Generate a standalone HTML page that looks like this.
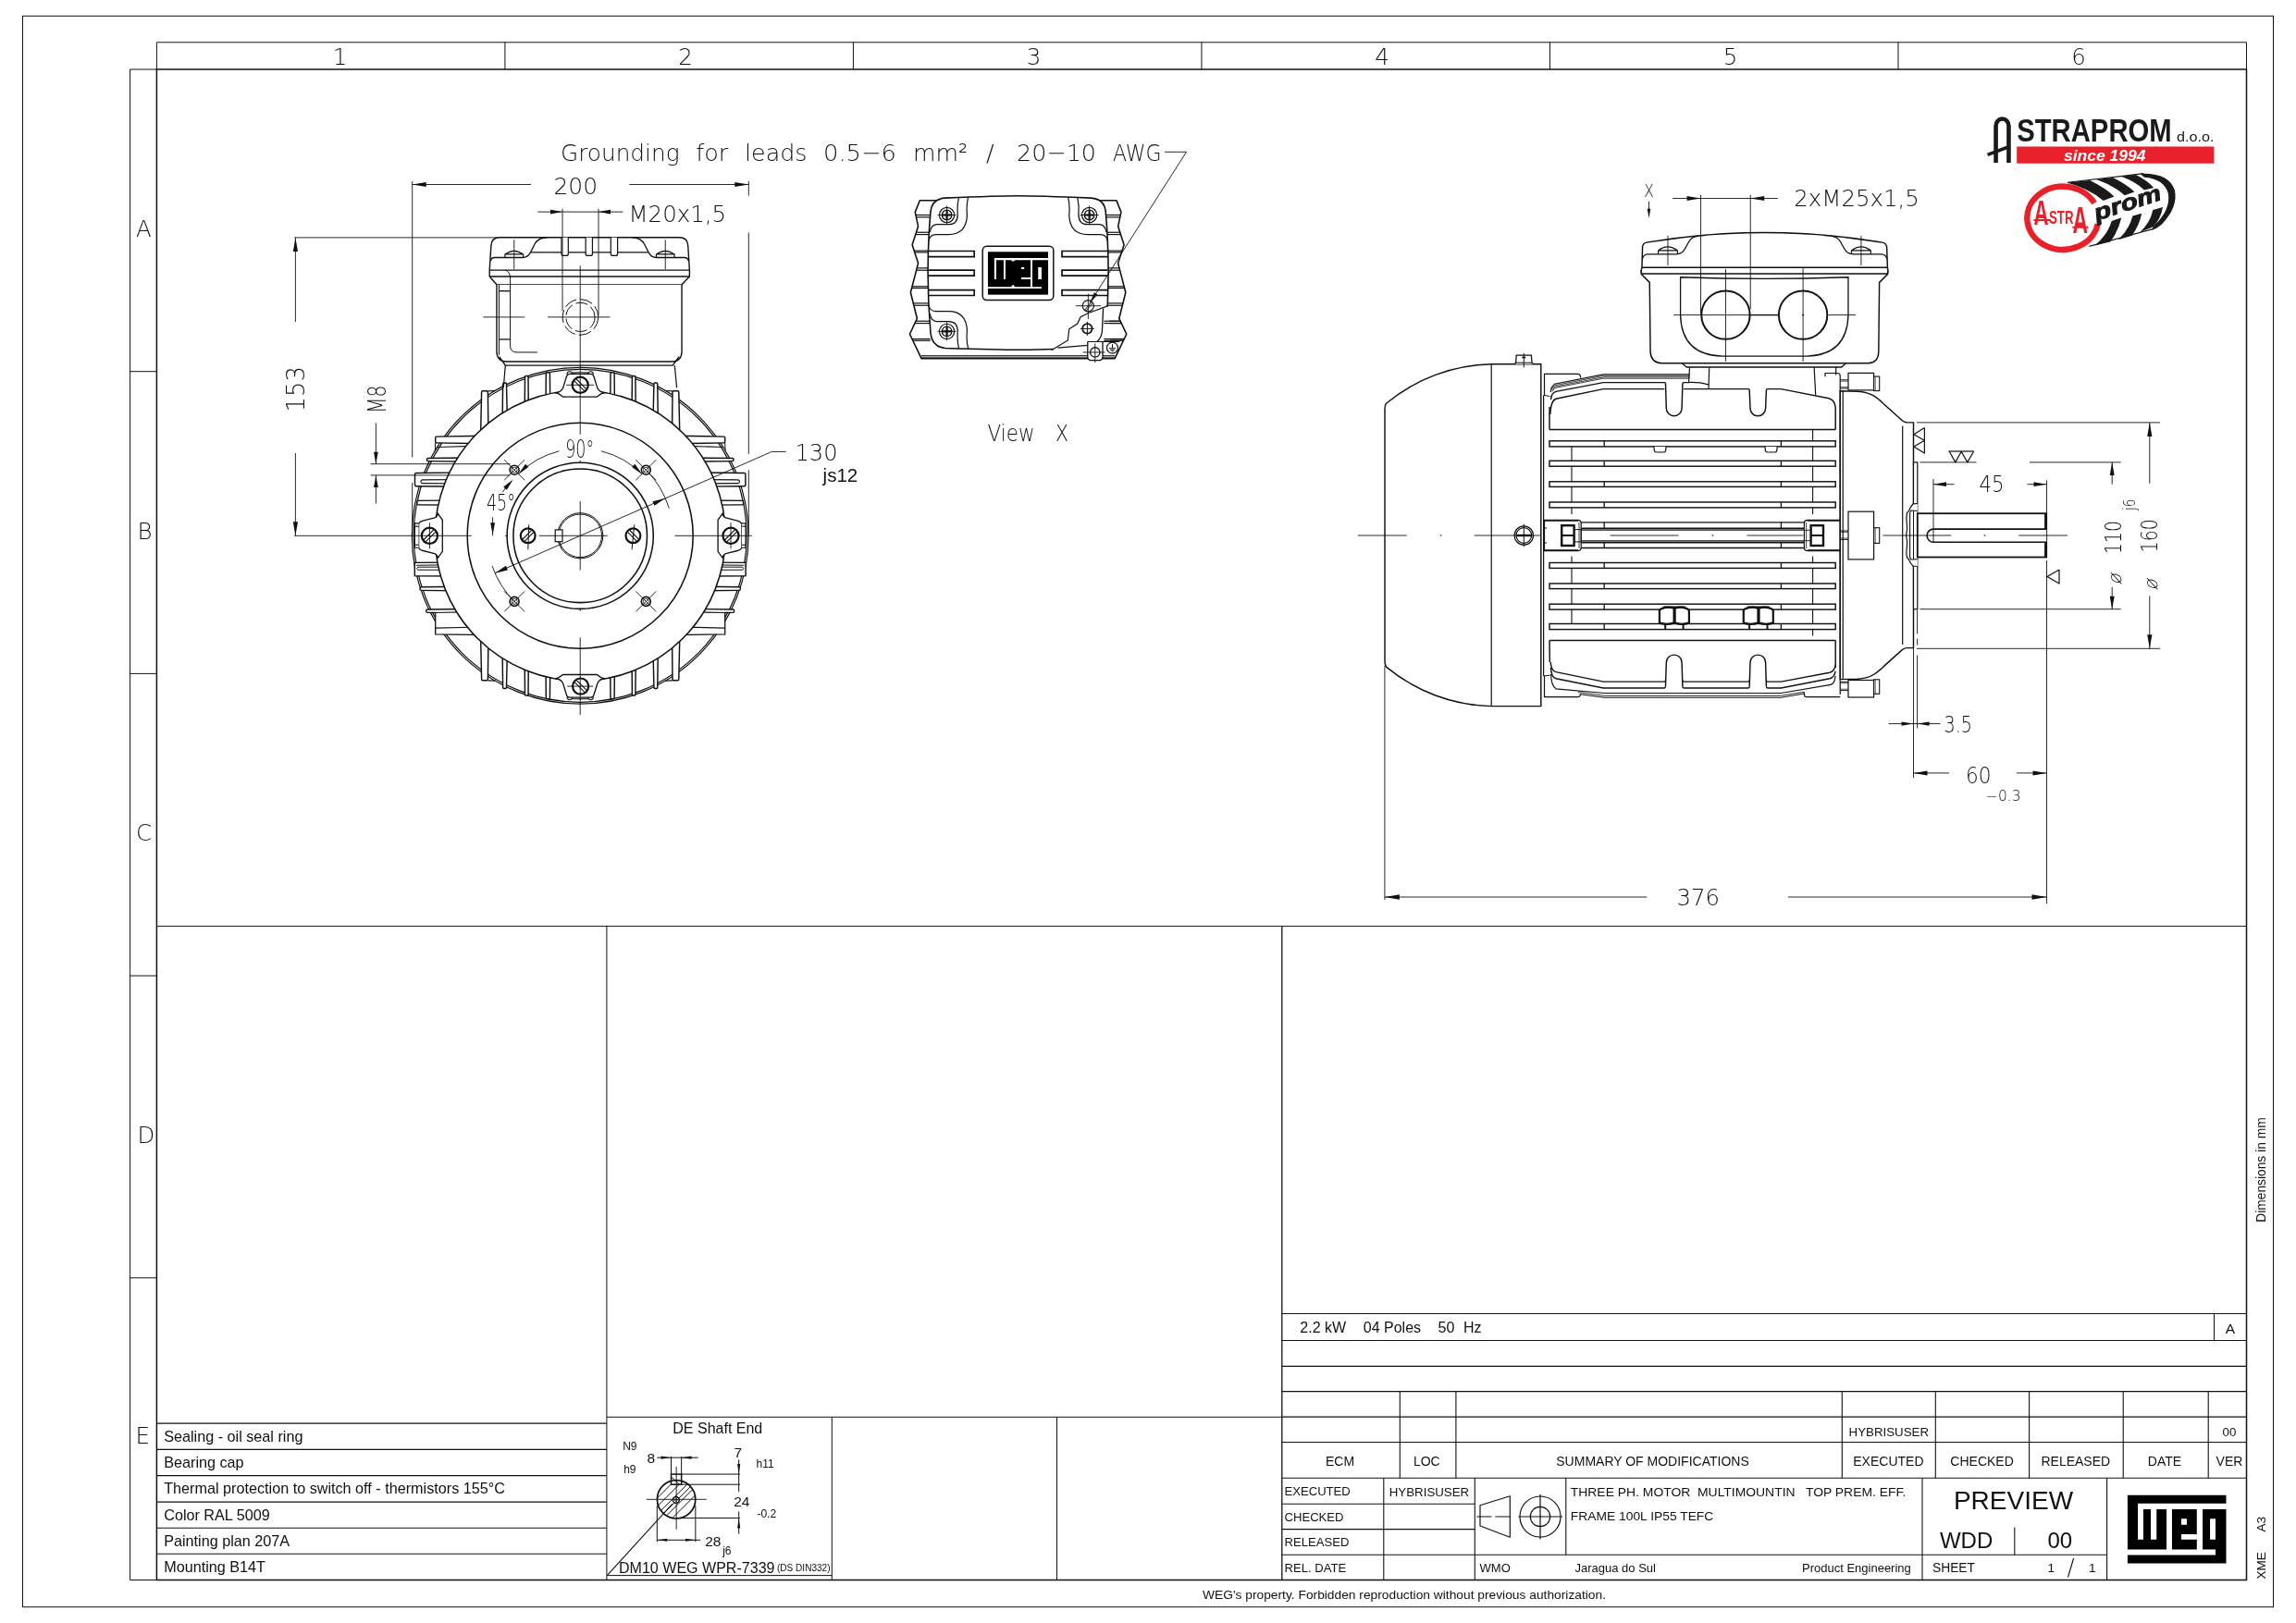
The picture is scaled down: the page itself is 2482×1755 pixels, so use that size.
<!DOCTYPE html>
<html><head><meta charset="utf-8"><title>Drawing</title>
<style>html,body{margin:0;padding:0;background:#fff}svg{display:block;will-change:transform;transform:translateZ(0)}text{white-space:pre}</style></head>
<body><svg width="2482" height="1755" viewBox="0 0 2482 1755">
<rect width="2482" height="1755" fill="#fff"/>
<rect x="24.5" y="17.3" width="2433" height="1720.4" rx="0" fill="none" stroke="#111" stroke-width="1.0"/>
<rect x="169.4" y="75" width="2259.1" height="1633.5" rx="0" fill="none" stroke="#111" stroke-width="1.5"/>
<path d="M169.4 75 L169.4 45.8 L2428.5 45.8 L2428.5 75" fill="none" stroke="#111" stroke-width="1.0" stroke-linejoin="round"/>
<line x1="545.92" y1="45.8" x2="545.92" y2="75" stroke="#111" stroke-width="1.0"/>
<line x1="922.43" y1="45.8" x2="922.43" y2="75" stroke="#111" stroke-width="1.0"/>
<line x1="1298.95" y1="45.8" x2="1298.95" y2="75" stroke="#111" stroke-width="1.0"/>
<line x1="1675.47" y1="45.8" x2="1675.47" y2="75" stroke="#111" stroke-width="1.0"/>
<line x1="2051.98" y1="45.8" x2="2051.98" y2="75" stroke="#111" stroke-width="1.0"/>
<text x="359.66" y="70.3" font-family="'DejaVu Sans Light','DejaVu Sans','Liberation Sans',sans-serif" font-size="24.5" font-weight="200" fill="#111" xml:space="preserve">1</text>
<text x="733.17" y="70.3" font-family="'DejaVu Sans Light','DejaVu Sans','Liberation Sans',sans-serif" font-size="24.5" font-weight="200" fill="#111" xml:space="preserve">2</text>
<text x="1109.69" y="70.3" font-family="'DejaVu Sans Light','DejaVu Sans','Liberation Sans',sans-serif" font-size="24.5" font-weight="200" fill="#111" xml:space="preserve">3</text>
<text x="1486.21" y="70.3" font-family="'DejaVu Sans Light','DejaVu Sans','Liberation Sans',sans-serif" font-size="24.5" font-weight="200" fill="#111" xml:space="preserve">4</text>
<text x="1862.72" y="70.3" font-family="'DejaVu Sans Light','DejaVu Sans','Liberation Sans',sans-serif" font-size="24.5" font-weight="200" fill="#111" xml:space="preserve">5</text>
<text x="2239.24" y="70.3" font-family="'DejaVu Sans Light','DejaVu Sans','Liberation Sans',sans-serif" font-size="24.5" font-weight="200" fill="#111" xml:space="preserve">6</text>
<path d="M169.4 75 L140.6 75 L140.6 1708.5 L169.4 1708.5" fill="none" stroke="#111" stroke-width="1.0" stroke-linejoin="round"/>
<line x1="140.6" y1="401.7" x2="169.4" y2="401.7" stroke="#111" stroke-width="1.0"/>
<line x1="140.6" y1="728.4" x2="169.4" y2="728.4" stroke="#111" stroke-width="1.0"/>
<line x1="140.6" y1="1055.1" x2="169.4" y2="1055.1" stroke="#111" stroke-width="1.0"/>
<line x1="140.6" y1="1381.8" x2="169.4" y2="1381.8" stroke="#111" stroke-width="1.0"/>
<text x="147" y="255.85" font-family="'DejaVu Sans Light','DejaVu Sans','Liberation Sans',sans-serif" font-size="24.5" font-weight="200" fill="#111" xml:space="preserve">A</text>
<text x="148.5" y="582.55" font-family="'DejaVu Sans Light','DejaVu Sans','Liberation Sans',sans-serif" font-size="24.5" font-weight="200" fill="#111" xml:space="preserve">B</text>
<text x="147" y="909.25" font-family="'DejaVu Sans Light','DejaVu Sans','Liberation Sans',sans-serif" font-size="24.5" font-weight="200" fill="#111" xml:space="preserve">C</text>
<text x="148.5" y="1235.95" font-family="'DejaVu Sans Light','DejaVu Sans','Liberation Sans',sans-serif" font-size="24.5" font-weight="200" fill="#111" xml:space="preserve">D</text>
<text x="146.5" y="1560.65" font-family="'DejaVu Sans Light','DejaVu Sans','Liberation Sans',sans-serif" font-size="24.5" font-weight="200" fill="#111" xml:space="preserve">E</text>
<line x1="169.4" y1="1001.6" x2="2428.5" y2="1001.6" stroke="#111" stroke-width="1.0"/>
<line x1="655.9" y1="1001.6" x2="655.9" y2="1708.5" stroke="#111" stroke-width="1.0"/>
<line x1="1385.8" y1="1001.6" x2="1385.8" y2="1708.5" stroke="#111" stroke-width="1.3"/>
<line x1="169.4" y1="1539.1" x2="655.9" y2="1539.1" stroke="#111" stroke-width="1.1"/>
<line x1="169.4" y1="1567.4" x2="655.9" y2="1567.4" stroke="#111" stroke-width="1.1"/>
<line x1="169.4" y1="1595.6" x2="655.9" y2="1595.6" stroke="#111" stroke-width="1.1"/>
<line x1="169.4" y1="1624.1" x2="655.9" y2="1624.1" stroke="#111" stroke-width="1.1"/>
<line x1="169.4" y1="1652.3" x2="655.9" y2="1652.3" stroke="#111" stroke-width="1.1"/>
<line x1="169.4" y1="1680.3" x2="655.9" y2="1680.3" stroke="#111" stroke-width="1.1"/>
<text x="177.2" y="1558.9" font-family="'Liberation Sans',Arial,sans-serif" font-size="16.2" fill="#111" xml:space="preserve">Sealing - oil seal ring</text>
<text x="177.2" y="1587.2" font-family="'Liberation Sans',Arial,sans-serif" font-size="16.2" fill="#111" xml:space="preserve">Bearing cap</text>
<text x="177.2" y="1615.4" font-family="'Liberation Sans',Arial,sans-serif" font-size="16.2" fill="#111" xml:space="preserve">Thermal protection to switch off - thermistors 155°C</text>
<text x="177.2" y="1643.9" font-family="'Liberation Sans',Arial,sans-serif" font-size="16.2" fill="#111" xml:space="preserve">Color RAL 5009</text>
<text x="177.2" y="1672.1" font-family="'Liberation Sans',Arial,sans-serif" font-size="16.2" fill="#111" xml:space="preserve">Painting plan 207A</text>
<text x="177.2" y="1700.1" font-family="'Liberation Sans',Arial,sans-serif" font-size="16.2" fill="#111" xml:space="preserve">Mounting B14T</text>
<line x1="655.9" y1="1532.3" x2="1385.8" y2="1532.3" stroke="#111" stroke-width="1.0"/>
<line x1="899.3" y1="1532.3" x2="899.3" y2="1708.5" stroke="#111" stroke-width="1.0"/>
<line x1="1142.5" y1="1532.3" x2="1142.5" y2="1708.5" stroke="#111" stroke-width="1.0"/>
<line x1="655.9" y1="1703.6" x2="899.3" y2="1703.6" stroke="#111" stroke-width="1.0"/>
<line x1="1385.8" y1="1420.5" x2="2428.5" y2="1420.5" stroke="#111" stroke-width="1.1"/>
<line x1="1385.8" y1="1449.5" x2="2428.5" y2="1449.5" stroke="#111" stroke-width="1.1"/>
<line x1="1385.8" y1="1477.4" x2="2428.5" y2="1477.4" stroke="#111" stroke-width="1.1"/>
<line x1="1385.8" y1="1504.6" x2="2428.5" y2="1504.6" stroke="#111" stroke-width="1.1"/>
<line x1="1385.8" y1="1532.1" x2="2428.5" y2="1532.1" stroke="#111" stroke-width="1.1"/>
<line x1="1385.8" y1="1559.5" x2="2428.5" y2="1559.5" stroke="#111" stroke-width="1.1"/>
<line x1="1385.8" y1="1598.2" x2="2428.5" y2="1598.2" stroke="#111" stroke-width="1.1"/>
<line x1="2393.5" y1="1420.5" x2="2393.5" y2="1449.5" stroke="#111" stroke-width="1.0"/>
<line x1="1513.3" y1="1504.6" x2="1513.3" y2="1598.2" stroke="#111" stroke-width="1.1"/>
<line x1="1573.9" y1="1504.6" x2="1573.9" y2="1598.2" stroke="#111" stroke-width="1.1"/>
<line x1="1991.3" y1="1504.6" x2="1991.3" y2="1598.2" stroke="#111" stroke-width="1.1"/>
<line x1="2092.3" y1="1504.6" x2="2092.3" y2="1598.2" stroke="#111" stroke-width="1.1"/>
<line x1="2193.6" y1="1504.6" x2="2193.6" y2="1598.2" stroke="#111" stroke-width="1.1"/>
<line x1="2295.2" y1="1504.6" x2="2295.2" y2="1598.2" stroke="#111" stroke-width="1.1"/>
<line x1="2387.2" y1="1504.6" x2="2387.2" y2="1598.2" stroke="#111" stroke-width="1.1"/>
<line x1="1385.8" y1="1626.2" x2="1594.3" y2="1626.2" stroke="#111" stroke-width="1.1"/>
<line x1="1385.8" y1="1653.6" x2="1594.3" y2="1653.6" stroke="#111" stroke-width="1.1"/>
<line x1="1385.8" y1="1681.3" x2="2277.6" y2="1681.3" stroke="#111" stroke-width="1.1"/>
<line x1="1495.8" y1="1598.2" x2="1495.8" y2="1708.5" stroke="#111" stroke-width="1.1"/>
<line x1="1594.3" y1="1598.2" x2="1594.3" y2="1708.5" stroke="#111" stroke-width="1.1"/>
<line x1="2078" y1="1598.2" x2="2078" y2="1708.5" stroke="#111" stroke-width="1.1"/>
<line x1="2277.6" y1="1598.2" x2="2277.6" y2="1708.5" stroke="#111" stroke-width="1.1"/>
<line x1="1692.8" y1="1598.2" x2="1692.8" y2="1681.3" stroke="#111" stroke-width="1.1"/>
<line x1="2177.8" y1="1651.6" x2="2177.8" y2="1681.3" stroke="#111" stroke-width="1.1"/>
<text x="1405.3" y="1441.2" font-family="'Liberation Sans',Arial,sans-serif" font-size="16" fill="#111" xml:space="preserve">2.2 kW</text>
<text x="1473.8" y="1441.2" font-family="'Liberation Sans',Arial,sans-serif" font-size="16" fill="#111" xml:space="preserve">04 Poles</text>
<text x="1554.5" y="1441.2" font-family="'Liberation Sans',Arial,sans-serif" font-size="16" fill="#111" xml:space="preserve">50</text>
<text x="1582" y="1441.2" font-family="'Liberation Sans',Arial,sans-serif" font-size="16" fill="#111" xml:space="preserve">Hz</text>
<text x="2411" y="1441.5" font-family="'Liberation Sans',Arial,sans-serif" font-size="15.5" text-anchor="middle" fill="#111" xml:space="preserve">A</text>
<text x="1448.6" y="1584.8" font-family="'Liberation Sans',Arial,sans-serif" font-size="14" text-anchor="middle" fill="#111" xml:space="preserve">ECM</text>
<text x="1542.3" y="1584.8" font-family="'Liberation Sans',Arial,sans-serif" font-size="14" text-anchor="middle" fill="#111" xml:space="preserve">LOC</text>
<text x="1786.5" y="1584.8" font-family="'Liberation Sans',Arial,sans-serif" font-size="14" text-anchor="middle" fill="#111" xml:space="preserve">SUMMARY OF MODIFICATIONS</text>
<text x="2041.4" y="1584.8" font-family="'Liberation Sans',Arial,sans-serif" font-size="14" text-anchor="middle" fill="#111" xml:space="preserve">EXECUTED</text>
<text x="2142.6" y="1584.8" font-family="'Liberation Sans',Arial,sans-serif" font-size="14" text-anchor="middle" fill="#111" xml:space="preserve">CHECKED</text>
<text x="2243.8" y="1584.8" font-family="'Liberation Sans',Arial,sans-serif" font-size="14" text-anchor="middle" fill="#111" xml:space="preserve">RELEASED</text>
<text x="2340" y="1584.8" font-family="'Liberation Sans',Arial,sans-serif" font-size="14" text-anchor="middle" fill="#111" xml:space="preserve">DATE</text>
<text x="2410" y="1584.8" font-family="'Liberation Sans',Arial,sans-serif" font-size="14" text-anchor="middle" fill="#111" xml:space="preserve">VER</text>
<text x="2041.8" y="1552.6" font-family="'Liberation Sans',Arial,sans-serif" font-size="13.3" text-anchor="middle" fill="#111" xml:space="preserve">HYBRISUSER</text>
<text x="2410" y="1552.6" font-family="'Liberation Sans',Arial,sans-serif" font-size="13.3" text-anchor="middle" fill="#111" xml:space="preserve">00</text>
<text x="1388.5" y="1617.1" font-family="'Liberation Sans',Arial,sans-serif" font-size="13.1" fill="#111" xml:space="preserve">EXECUTED</text>
<text x="1388.5" y="1644.7" font-family="'Liberation Sans',Arial,sans-serif" font-size="13.1" fill="#111" xml:space="preserve">CHECKED</text>
<text x="1388.5" y="1672" font-family="'Liberation Sans',Arial,sans-serif" font-size="13.1" fill="#111" xml:space="preserve">RELEASED</text>
<text x="1388.5" y="1699.7" font-family="'Liberation Sans',Arial,sans-serif" font-size="13.1" fill="#111" xml:space="preserve">REL. DATE</text>
<text x="1545" y="1617.7" font-family="'Liberation Sans',Arial,sans-serif" font-size="13.3" text-anchor="middle" fill="#111" xml:space="preserve">HYBRISUSER</text>
<text x="1599.6" y="1700.3" font-family="'Liberation Sans',Arial,sans-serif" font-size="13" fill="#111" xml:space="preserve">WMO</text>
<text x="1702.5" y="1700.3" font-family="'Liberation Sans',Arial,sans-serif" font-size="13" fill="#111" xml:space="preserve">Jaragua do Sul</text>
<text x="2065.8" y="1700.3" font-family="'Liberation Sans',Arial,sans-serif" font-size="13" text-anchor="end" fill="#111" xml:space="preserve">Product Engineering</text>
<text x="1697.8" y="1617.8" font-family="'Liberation Sans',Arial,sans-serif" font-size="13.3" textLength="362.5" lengthAdjust="spacingAndGlyphs" fill="#111" xml:space="preserve">THREE PH. MOTOR  MULTIMOUNTIN   TOP PREM. EFF.</text>
<text x="1697.8" y="1644" font-family="'Liberation Sans',Arial,sans-serif" font-size="13.3" textLength="154.5" lengthAdjust="spacingAndGlyphs" fill="#111" xml:space="preserve">FRAME 100L IP55 TEFC</text>
<text x="2176.5" y="1631.5" font-family="'Liberation Sans',Arial,sans-serif" font-size="28" text-anchor="middle" fill="#111" xml:space="preserve">PREVIEW</text>
<text x="2125.6" y="1674.3" font-family="'Liberation Sans',Arial,sans-serif" font-size="24" text-anchor="middle" fill="#111" xml:space="preserve">WDD</text>
<text x="2226.8" y="1674.3" font-family="'Liberation Sans',Arial,sans-serif" font-size="24" text-anchor="middle" fill="#111" xml:space="preserve">00</text>
<text x="2089" y="1699.6" font-family="'Liberation Sans',Arial,sans-serif" font-size="13.8" fill="#111" xml:space="preserve">SHEET</text>
<text x="2213.5" y="1700.2" font-family="'Liberation Sans',Arial,sans-serif" font-size="13.5" fill="#111" xml:space="preserve">1</text>
<text x="2234.5" y="1703" font-family="'DejaVu Sans Light','DejaVu Sans','Liberation Sans',sans-serif" font-size="24" font-weight="200" fill="#111" xml:space="preserve">/</text>
<text x="2258" y="1700.2" font-family="'Liberation Sans',Arial,sans-serif" font-size="13.5" fill="#111" xml:space="preserve">1</text>
<text x="2448.5" y="1707.5" font-family="'Liberation Sans',Arial,sans-serif" font-size="13.5" transform="rotate(-90 2448.5 1707.5)" fill="#111" xml:space="preserve">XME</text>
<text x="2448.5" y="1656.5" font-family="'Liberation Sans',Arial,sans-serif" font-size="13.5" transform="rotate(-90 2448.5 1656.5)" fill="#111" xml:space="preserve">A3</text>
<text x="2448.8" y="1321.8" font-family="'Liberation Sans',Arial,sans-serif" font-size="13.8" transform="rotate(-90 2448.8 1321.8)" fill="#111" xml:space="preserve">Dimensions in mm</text>
<text x="1300" y="1728.6" font-family="'Liberation Sans',Arial,sans-serif" font-size="13.7" textLength="436" lengthAdjust="spacingAndGlyphs" fill="#111" xml:space="preserve">WEG's property. Forbidden reproduction without previous authorization.</text>
<path d="M1600 1627.8 L1632.3 1617.7 L1632.3 1662.2 L1600 1650 Z" fill="none" stroke="#111" stroke-width="1.2" stroke-linejoin="round"/>
<line x1="1596.5" y1="1640" x2="1636.5" y2="1640" stroke="#111" stroke-width="1.2" stroke-dasharray="16 4"/>
<circle cx="1665" cy="1640" r="22" fill="none" stroke="#111" stroke-width="1.2"/>
<circle cx="1665" cy="1640" r="10.7" fill="none" stroke="#111" stroke-width="1.2"/>
<line x1="1641.5" y1="1640" x2="1689" y2="1640" stroke="#111" stroke-width="1.2"/>
<line x1="1665" y1="1616" x2="1665" y2="1664.5" stroke="#111" stroke-width="1.2"/>
<path d="M2299.9 1616.7H2406.5V1625.76H2299.9ZM2299.9 1616.7H2311.05V1675.61H2299.9ZM2299.9 1664.8H2342.05V1675.61H2299.9ZM2316.97 1632.04H2324.98V1675.61H2316.97ZM2331.25 1632.04H2342.05V1675.61H2331.25ZM2347.97 1632.04H2374.8V1675.61H2347.97ZM2381.07 1632.04H2406.5V1675.61H2381.07ZM2395 1632.04H2406.5V1690.6H2395ZM2299.9 1681.54H2406.5V1690.6H2299.9Z" fill="#000"/>
<path d="M2357.94 1642.15H2364V1648.77H2357.94ZM2357.94 1658.88H2374.94V1664.8H2357.94ZM2389.08 1642.15H2395V1664.8H2389.08Z" fill="#fff"/>
<text x="775.8" y="1550" font-family="'Liberation Sans',Arial,sans-serif" font-size="16" text-anchor="middle" fill="#111" xml:space="preserve">DE Shaft End</text>
<text x="673.2" y="1568.2" font-family="'Liberation Sans',Arial,sans-serif" font-size="12" fill="#111" xml:space="preserve">N9</text>
<text x="674.2" y="1593" font-family="'Liberation Sans',Arial,sans-serif" font-size="12" fill="#111" xml:space="preserve">h9</text>
<text x="699.6" y="1582.2" font-family="'Liberation Sans',Arial,sans-serif" font-size="15.5" fill="#111" xml:space="preserve">8</text>
<text x="793.6" y="1575.8" font-family="'Liberation Sans',Arial,sans-serif" font-size="15.5" fill="#111" xml:space="preserve">7</text>
<text x="817.6" y="1586.6" font-family="'Liberation Sans',Arial,sans-serif" font-size="12" fill="#111" xml:space="preserve">h11</text>
<text x="793.2" y="1629.3" font-family="'Liberation Sans',Arial,sans-serif" font-size="15.5" fill="#111" xml:space="preserve">24</text>
<text x="818.4" y="1641" font-family="'Liberation Sans',Arial,sans-serif" font-size="12" fill="#111" xml:space="preserve">-0.2</text>
<text x="762.2" y="1671.5" font-family="'Liberation Sans',Arial,sans-serif" font-size="15.5" fill="#111" xml:space="preserve">28</text>
<text x="781.2" y="1681.4" font-family="'Liberation Sans',Arial,sans-serif" font-size="12" fill="#111" xml:space="preserve">j6</text>
<text x="669" y="1701.4" font-family="'Liberation Sans',Arial,sans-serif" font-size="16" textLength="168.5" lengthAdjust="spacingAndGlyphs" fill="#111" xml:space="preserve">DM10 WEG WPR-7339</text>
<text x="840" y="1699.4" font-family="'Liberation Sans',Arial,sans-serif" font-size="10" textLength="57.5" lengthAdjust="spacingAndGlyphs" fill="#111" xml:space="preserve">(DS DIN332)</text>
<clipPath id="shc"><circle cx="731.1" cy="1621.3" r="20.7"/></clipPath><g clip-path="url(#shc)">
<line x1="679.1" y1="1651.3" x2="739.1" y2="1591.3" stroke="#111" stroke-width="1.0"/>
<line x1="688.1" y1="1651.3" x2="748.1" y2="1591.3" stroke="#111" stroke-width="1.0"/>
<line x1="696.6" y1="1651.3" x2="756.6" y2="1591.3" stroke="#111" stroke-width="1.0"/>
<line x1="702.6" y1="1651.3" x2="762.6" y2="1591.3" stroke="#111" stroke-width="1.0"/>
<line x1="708.1" y1="1651.3" x2="768.1" y2="1591.3" stroke="#111" stroke-width="1.0"/>
<line x1="717.1" y1="1651.3" x2="777.1" y2="1591.3" stroke="#111" stroke-width="1.0"/>
</g>
<rect x="725.51" y="1594.07" width="11.12" height="11.12" rx="0" fill="#fff" stroke="#111" stroke-width="1.5"/>
<line x1="725.51" y1="1597.07" x2="734.63" y2="1605.19" stroke="#111" stroke-width="1.0"/>
<circle cx="731.1" cy="1621.3" r="20.7" fill="none" stroke="#111" stroke-width="1.7"/>
<circle cx="730.8" cy="1621.9" r="3.4" fill="#fff" stroke="#111" stroke-width="1.6"/>
<circle cx="730.8" cy="1621.9" r="1.3" fill="none" stroke="#111" stroke-width="0.8"/>
<line x1="698.58" y1="1621.3" x2="763.56" y2="1621.3" stroke="#111" stroke-width="0.9"/>
<line x1="731.13" y1="1585.88" x2="731.13" y2="1653.78" stroke="#111" stroke-width="0.9"/>
<line x1="725.51" y1="1575.11" x2="725.51" y2="1594.07" stroke="#111" stroke-width="1"/>
<line x1="736.63" y1="1575.11" x2="736.63" y2="1594.07" stroke="#111" stroke-width="1"/>
<line x1="710.29" y1="1576.16" x2="754.78" y2="1576.16" stroke="#111" stroke-width="1"/>
<path d="M725.51 1576.16 L714.51 1577.76 L714.51 1574.56 Z" fill="#111"/>
<path d="M736.63 1576.16 L747.63 1574.56 L747.63 1577.76 Z" fill="#111"/>
<line x1="736.63" y1="1594.07" x2="800.08" y2="1594.07" stroke="#111" stroke-width="1"/>
<line x1="736.63" y1="1605.19" x2="800.08" y2="1605.19" stroke="#111" stroke-width="1"/>
<line x1="730.78" y1="1641.48" x2="800.08" y2="1641.48" stroke="#111" stroke-width="1"/>
<line x1="798.68" y1="1578.27" x2="798.68" y2="1613.04" stroke="#111" stroke-width="1"/>
<line x1="798.68" y1="1634.46" x2="798.68" y2="1658.69" stroke="#111" stroke-width="1"/>
<path d="M798.68 1594.07 L797.08 1583.07 L800.28 1583.07 Z" fill="#111"/>
<path d="M798.68 1641.48 L800.28 1652.48 L797.08 1652.48 Z" fill="#111"/>
<line x1="710.29" y1="1628.02" x2="710.29" y2="1667.24" stroke="#111" stroke-width="1"/>
<line x1="751.85" y1="1628.02" x2="751.85" y2="1667.24" stroke="#111" stroke-width="1"/>
<line x1="710.29" y1="1665.25" x2="757.12" y2="1665.25" stroke="#111" stroke-width="1"/>
<path d="M710.29 1665.25 L721.29 1663.65 L721.29 1666.85 Z" fill="#111"/>
<path d="M751.85 1665.25 L740.85 1666.85 L740.85 1663.65 Z" fill="#111"/>
<line x1="656.5" y1="1703.3" x2="726.68" y2="1626.26" stroke="#111" stroke-width="1.1"/>
<g transform="translate(627.2 579.3)">
<circle cx="0" cy="0" r="181.9" fill="none" stroke="#111" stroke-width="1.2"/>
<circle cx="0" cy="0" r="180" fill="none" stroke="#111" stroke-width="1.2"/>
<path d="M-107.8 -100 L-106.6 -155.3 Q-106.6 -156.5 -105.4 -156.5 L-101 -156.5 Q-99.8 -156.5 -99.8 -155.3 L-99.2 -100" fill="#fff" stroke="#111" stroke-width="1.45" />
<path d="M-107.8 100 L-106.6 155.3 Q-106.6 156.5 -105.4 156.5 L-101 156.5 Q-99.8 156.5 -99.8 155.3 L-99.2 100" fill="#fff" stroke="#111" stroke-width="1.45" />
<path d="M-84.4 -100 L-83.6 -164 Q-83.6 -165.2 -82.4 -165.2 L-80.9 -165.2 Q-79.7 -165.2 -79.7 -164 L-78.3 -100" fill="#fff" stroke="#111" stroke-width="1.45" />
<path d="M-84.4 100 L-83.6 164 Q-83.6 165.2 -82.4 165.2 L-80.9 165.2 Q-79.7 165.2 -79.7 164 L-78.3 100" fill="#fff" stroke="#111" stroke-width="1.45" />
<path d="M-60.4 -100 L-59.7 -171.6 Q-59.7 -172.8 -58.5 -172.8 L-57.4 -172.8 Q-56.2 -172.8 -56.2 -171.6 L-55.5 -100" fill="#fff" stroke="#111" stroke-width="1.45" />
<path d="M-60.4 100 L-59.7 171.6 Q-59.7 172.8 -58.5 172.8 L-57.4 172.8 Q-56.2 172.8 -56.2 171.6 L-55.5 100" fill="#fff" stroke="#111" stroke-width="1.45" />
<path d="M-37.6 -100 L-36.9 -175.3 Q-36.9 -176.5 -35.7 -176.5 L-34 -176.5 Q-32.8 -176.5 -32.8 -175.3 L-32.1 -100" fill="#fff" stroke="#111" stroke-width="1.45" />
<path d="M-37.6 100 L-36.9 175.3 Q-36.9 176.5 -35.7 176.5 L-34 176.5 Q-32.8 176.5 -32.8 175.3 L-32.1 100" fill="#fff" stroke="#111" stroke-width="1.45" />
<line x1="-99.8" y1="-156.5" x2="-91.5" y2="-156.8" stroke="#111" stroke-width="1.2"/>
<line x1="-99.8" y1="156.5" x2="-91.5" y2="156.8" stroke="#111" stroke-width="1.2"/>
<path d="M-100 -108 L-155.3 -107.2 Q-156.5 -107.2 -156.5 -106 L-156.5 -101.6 Q-156.5 -100.4 -155.3 -100.4 L-100 -99.6" fill="#fff" stroke="#111" stroke-width="1.45" />
<line x1="-154" y1="-95.8" x2="-110" y2="-97.2" stroke="#111" stroke-width="1.1"/>
<line x1="-156.5" y1="-100.4" x2="-156.9" y2="-92" stroke="#111" stroke-width="1.0"/>
<path d="M-100 -84.4 L-164.3 -83.8 Q-165.8 -83.8 -165.8 -82.3 L-165.8 -82.2 Q-165.8 -80.7 -164.3 -80.7 L-100 -79.9" fill="#fff" stroke="#111" stroke-width="1.45" />
<path d="M-100 -68.6 L-177.2 -67.8 Q-178.7 -67.8 -178.7 -66.3 L-178.7 -55.1 Q-178.7 -53.6 -177.2 -53.6 L-100 -52.8" fill="#fff" stroke="#111" stroke-width="1.45" />
<path d="M-100 -60.9 L-170.5 -60.4 Q-172.3 -60.3 -172.3 -58.5 Q-172.3 -56.7 -170.5 -56.7 L-100 -56.2" fill="none" stroke="#111" stroke-width="1.1" />
<path d="M-100 -38.6 L-175.3 -37.9 Q-176.3 -37.9 -176.3 -36.9 L-176.3 -34.4 Q-176.3 -33.4 -175.3 -33.4 L-100 -33" fill="#fff" stroke="#111" stroke-width="1.45" />
<path d="M-100 28.6 L-178.3 29.1 Q-178.9 29.1 -178.9 29.7 L-178.9 42.9 Q-178.9 43.5 -178.3 43.5 L-100 43.9" fill="#fff" stroke="#111" stroke-width="1.45" />
<line x1="-177.2" y1="32" x2="-100" y2="31" stroke="#111" stroke-width="1.1"/>
<path d="M-100 33.7 L-175.5 33.9 L-176.5 35.4 L-175.5 36.9 L-100 37.3" fill="none" stroke="#111" stroke-width="1.0" />
<path d="M-100 54.7 L-171.6 55.4 Q-173.2 55.4 -173.2 57 L-173.2 57.5 Q-173.2 59.1 -171.6 59.1 L-100 59.9" fill="#fff" stroke="#111" stroke-width="1.45" />
<path d="M-100 79.0 L-165 79.7 Q-166.6 79.7 -166.6 81.4 Q-166.6 83.1 -165 83.1 L-156.5 83.2 L-156.5 106.5 L-100 107.3 Z" fill="#fff" stroke="#111" stroke-width="1.3" />
<line x1="-156.5" y1="83.2" x2="-100" y2="82" stroke="#111" stroke-width="1.2"/>
<line x1="-156.5" y1="99.8" x2="-100" y2="98.6" stroke="#111" stroke-width="1.2"/>
<g transform="scale(-1 1)">
<path d="M-107.8 -100 L-106.6 -155.3 Q-106.6 -156.5 -105.4 -156.5 L-101 -156.5 Q-99.8 -156.5 -99.8 -155.3 L-99.2 -100" fill="#fff" stroke="#111" stroke-width="1.45" />
<path d="M-107.8 100 L-106.6 155.3 Q-106.6 156.5 -105.4 156.5 L-101 156.5 Q-99.8 156.5 -99.8 155.3 L-99.2 100" fill="#fff" stroke="#111" stroke-width="1.45" />
<path d="M-84.4 -100 L-83.6 -164 Q-83.6 -165.2 -82.4 -165.2 L-80.9 -165.2 Q-79.7 -165.2 -79.7 -164 L-78.3 -100" fill="#fff" stroke="#111" stroke-width="1.45" />
<path d="M-84.4 100 L-83.6 164 Q-83.6 165.2 -82.4 165.2 L-80.9 165.2 Q-79.7 165.2 -79.7 164 L-78.3 100" fill="#fff" stroke="#111" stroke-width="1.45" />
<path d="M-60.4 -100 L-59.7 -171.6 Q-59.7 -172.8 -58.5 -172.8 L-57.4 -172.8 Q-56.2 -172.8 -56.2 -171.6 L-55.5 -100" fill="#fff" stroke="#111" stroke-width="1.45" />
<path d="M-60.4 100 L-59.7 171.6 Q-59.7 172.8 -58.5 172.8 L-57.4 172.8 Q-56.2 172.8 -56.2 171.6 L-55.5 100" fill="#fff" stroke="#111" stroke-width="1.45" />
<path d="M-37.6 -100 L-36.9 -175.3 Q-36.9 -176.5 -35.7 -176.5 L-34 -176.5 Q-32.8 -176.5 -32.8 -175.3 L-32.1 -100" fill="#fff" stroke="#111" stroke-width="1.45" />
<path d="M-37.6 100 L-36.9 175.3 Q-36.9 176.5 -35.7 176.5 L-34 176.5 Q-32.8 176.5 -32.8 175.3 L-32.1 100" fill="#fff" stroke="#111" stroke-width="1.45" />
<line x1="-99.8" y1="-156.5" x2="-91.5" y2="-156.8" stroke="#111" stroke-width="1.2"/>
<line x1="-99.8" y1="156.5" x2="-91.5" y2="156.8" stroke="#111" stroke-width="1.2"/>
<path d="M-100 -108 L-155.3 -107.2 Q-156.5 -107.2 -156.5 -106 L-156.5 -101.6 Q-156.5 -100.4 -155.3 -100.4 L-100 -99.6" fill="#fff" stroke="#111" stroke-width="1.45" />
<line x1="-154" y1="-95.8" x2="-110" y2="-97.2" stroke="#111" stroke-width="1.1"/>
<line x1="-156.5" y1="-100.4" x2="-156.9" y2="-92" stroke="#111" stroke-width="1.0"/>
<path d="M-100 -84.4 L-164.3 -83.8 Q-165.8 -83.8 -165.8 -82.3 L-165.8 -82.2 Q-165.8 -80.7 -164.3 -80.7 L-100 -79.9" fill="#fff" stroke="#111" stroke-width="1.45" />
<path d="M-100 -68.6 L-177.2 -67.8 Q-178.7 -67.8 -178.7 -66.3 L-178.7 -55.1 Q-178.7 -53.6 -177.2 -53.6 L-100 -52.8" fill="#fff" stroke="#111" stroke-width="1.45" />
<path d="M-100 -60.9 L-170.5 -60.4 Q-172.3 -60.3 -172.3 -58.5 Q-172.3 -56.7 -170.5 -56.7 L-100 -56.2" fill="none" stroke="#111" stroke-width="1.1" />
<path d="M-100 -38.6 L-175.3 -37.9 Q-176.3 -37.9 -176.3 -36.9 L-176.3 -34.4 Q-176.3 -33.4 -175.3 -33.4 L-100 -33" fill="#fff" stroke="#111" stroke-width="1.45" />
<path d="M-100 28.6 L-178.3 29.1 Q-178.9 29.1 -178.9 29.7 L-178.9 42.9 Q-178.9 43.5 -178.3 43.5 L-100 43.9" fill="#fff" stroke="#111" stroke-width="1.45" />
<line x1="-177.2" y1="32" x2="-100" y2="31" stroke="#111" stroke-width="1.1"/>
<path d="M-100 33.7 L-175.5 33.9 L-176.5 35.4 L-175.5 36.9 L-100 37.3" fill="none" stroke="#111" stroke-width="1.0" />
<path d="M-100 54.7 L-171.6 55.4 Q-173.2 55.4 -173.2 57 L-173.2 57.5 Q-173.2 59.1 -171.6 59.1 L-100 59.9" fill="#fff" stroke="#111" stroke-width="1.45" />
<path d="M-100 79.0 L-165 79.7 Q-166.6 79.7 -166.6 81.4 Q-166.6 83.1 -165 83.1 L-156.5 83.2 L-156.5 106.5 L-100 107.3 Z" fill="#fff" stroke="#111" stroke-width="1.3" />
<line x1="-156.5" y1="83.2" x2="-100" y2="82" stroke="#111" stroke-width="1.2"/>
<line x1="-156.5" y1="99.8" x2="-100" y2="98.6" stroke="#111" stroke-width="1.2"/>
</g>
<circle cx="0" cy="0" r="157" fill="#fff" stroke="#111" stroke-width="1.55"/>
<path d="M-153.7 -23.8 C-154.5 -21 -155.5 -20 -157.4 -19.4 L-170 -16.2 C-173 -15.4 -174.6 -14 -174.6 -12 L-174.6 12 C-174.6 14 -173 15.4 -170 16.2 L-157.4 19.4 C-155.5 20 -154.5 21 -153.7 23.8 L-148.9 17 L-148.9 -17 Z" fill="#fff" stroke="#111" stroke-width="1.3" />
<path d="M-174.6 -13.4 L-178.8 -13.4 L-178.8 13 L-174.6 13" fill="#fff" stroke="#111" stroke-width="1.1" />
<line x1="-178.8" y1="-10.1" x2="-174.6" y2="-10.1" stroke="#111" stroke-width="1.1"/>
<line x1="-178.8" y1="9.9" x2="-174.6" y2="9.9" stroke="#111" stroke-width="1.1"/>
<g transform="scale(-1 1)">
<path d="M-153.7 -23.8 C-154.5 -21 -155.5 -20 -157.4 -19.4 L-170 -16.2 C-173 -15.4 -174.6 -14 -174.6 -12 L-174.6 12 C-174.6 14 -173 15.4 -170 16.2 L-157.4 19.4 C-155.5 20 -154.5 21 -153.7 23.8 L-148.9 17 L-148.9 -17 Z" fill="#fff" stroke="#111" stroke-width="1.3" />
<path d="M-174.6 -13.4 L-178.8 -13.4 L-178.8 13 L-174.6 13" fill="#fff" stroke="#111" stroke-width="1.1" />
<line x1="-178.8" y1="-10.1" x2="-174.6" y2="-10.1" stroke="#111" stroke-width="1.1"/>
<line x1="-178.8" y1="9.9" x2="-174.6" y2="9.9" stroke="#111" stroke-width="1.1"/>
</g>
<path d="M-27 -154.6 C-22 -154.6 -20 -156.5 -18.6 -159.7 L-14.8 -172 Q-14 -174.9 -11 -174.9 L11 -174.9 Q14 -174.9 14.8 -172 L18.6 -159.7 C20 -156.5 22 -154.6 27 -154.6 L22.9 -153.6 L18 -150.2 L-18.6 -150.2 L-23.5 -153.6 Z" fill="#fff" stroke="#111" stroke-width="1.3" />
<path d="M-14.3 -174.5 A2.9 3.4 0 0 1 -8.6 -174.9 M14.3 -174.5 A2.9 3.4 0 0 0 8.6 -174.9 M-8.8 -176.2 Q0 -177 8.8 -176.2" fill="none" stroke="#111" stroke-width="1.1" />
<g transform="scale(1 -1)">
<path d="M-27 -154.6 C-22 -154.6 -20 -156.5 -18.6 -159.7 L-14.8 -172 Q-14 -174.9 -11 -174.9 L11 -174.9 Q14 -174.9 14.8 -172 L18.6 -159.7 C20 -156.5 22 -154.6 27 -154.6 L22.9 -153.6 L18 -150.2 L-18.6 -150.2 L-23.5 -153.6 Z" fill="#fff" stroke="#111" stroke-width="1.3" />
<path d="M-14.3 -174.5 A2.9 3.4 0 0 1 -8.6 -174.9 M14.3 -174.5 A2.9 3.4 0 0 0 8.6 -174.9 M-8.8 -176.2 Q0 -177 8.8 -176.2" fill="none" stroke="#111" stroke-width="1.1" />
</g>
</g>
<path d="M529.21 292.09 L530.88 265.54 Q531.3 256.76 540.5 256.76 L734.1 256.76 Q743.3 256.76 743.72 265.54 L745.39 292.09 L745.39 298.99 L737.03 307.78 L536.94 307.78 L529.21 298.99 Z" fill="#fff" stroke="#111" stroke-width="1.4" />
<line x1="529.21" y1="292.09" x2="745.39" y2="292.09" stroke="#111" stroke-width="1.3"/>
<line x1="529.21" y1="298.99" x2="745.39" y2="298.99" stroke="#111" stroke-width="1.3"/>
<path d="M530.46 282.27 Q530.88 278.51 534.85 278.51 L565.17 278.51 Q570.4 278.51 573.53 272.86 L577.71 264.5 Q581.89 256.76 591.3 256.76" fill="none" stroke="#111" stroke-width="1.3" />
<path d="M744.14 282.27 Q743.72 278.51 739.74 278.51 L709.43 278.51 Q704.2 278.51 701.07 272.86 L696.88 264.5 Q692.7 256.76 683.3 256.76" fill="none" stroke="#111" stroke-width="1.3" />
<line x1="573.95" y1="272.86" x2="700.65" y2="272.86" stroke="#111" stroke-width="1.2"/>
<path d="M606.98 256.76 L606.98 274.74 Q606.98 276.41 609.07 276.41 L612.21 276.41 Q614.3 276.41 614.3 274.74 L614.3 256.76" fill="#fff" stroke="#111" stroke-width="1.2" />
<path d="M633.12 256.76 L633.12 274.74 Q633.12 276.41 635.21 276.41 L638.34 276.41 Q640.43 276.41 640.43 274.74 L640.43 256.76" fill="#fff" stroke="#111" stroke-width="1.2" />
<path d="M660.3 256.76 L660.3 274.74 Q660.3 276.41 662.39 276.41 L665.52 276.41 Q667.61 276.41 667.61 274.74 L667.61 256.76" fill="#fff" stroke="#111" stroke-width="1.2" />
<path d="M545.93 278.51 L545.93 274.95 Q555.76 267.63 565.59 274.95 L565.59 278.51 M545.93 274.95 L565.59 274.95" fill="none" stroke="#111" stroke-width="1.2" />
<line x1="555.76" y1="259.27" x2="555.76" y2="291.05" stroke="#111" stroke-width="0.9"/>
<path d="M709.43 278.51 L709.43 274.95 Q719.26 267.63 729.08 274.95 L729.08 278.51 M709.43 274.95 L729.08 274.95" fill="none" stroke="#111" stroke-width="1.2" />
<line x1="719.26" y1="259.27" x2="719.26" y2="291.05" stroke="#111" stroke-width="0.9"/>
<path d="M536.94 307.78 L536.94 380.53 Q537.36 390.99 547.4 390.99 L726.57 390.99 Q736.61 390.99 737.03 380.53 L737.03 307.78" fill="#fff" stroke="#111" stroke-width="1.4" />
<path d="M539.66 385.76 L546.35 395.17 L727.2 395.17 L734.1 385.76" fill="none" stroke="#111" stroke-width="1.4" />
<line x1="539.45" y1="307.78" x2="539.45" y2="383.67" stroke="#111" stroke-width="1.0"/>
<path d="M546.35 292.09 Q551.58 293.77 551.58 301.09 L551.58 374.26 Q551.58 380.95 558.9 380.95 L580.85 380.95" fill="none" stroke="#111" stroke-width="1.0" />
<line x1="539.45" y1="314.67" x2="551.58" y2="314.67" stroke="#111" stroke-width="1.3"/>
<line x1="539.45" y1="366.94" x2="551.58" y2="366.94" stroke="#111" stroke-width="1.3"/>
<circle cx="627.47" cy="342.9" r="19.3" fill="none" stroke="#111" stroke-width="1.0" stroke-dasharray="14 4"/>
<circle cx="627.47" cy="342.9" r="15.6" fill="none" stroke="#111" stroke-width="1.0" stroke-dasharray="13 4"/>
<line x1="522.31" y1="342.9" x2="567.26" y2="342.9" stroke="#111" stroke-width="0.9"/>
<line x1="591.93" y1="342.9" x2="659.25" y2="342.9" stroke="#111" stroke-width="0.9"/>
<line x1="546.35" y1="395.17" x2="544.26" y2="419.21" stroke="#111" stroke-width="1.2"/>
<line x1="729.29" y1="395.17" x2="731.59" y2="419.21" stroke="#111" stroke-width="1.2"/>
<g transform="translate(627.2 579.3)">
<circle cx="0" cy="0" r="122" fill="none" stroke="#111" stroke-width="1.55"/>
<circle cx="0" cy="0" r="79.1" fill="none" stroke="#111" stroke-width="1.55"/>
<circle cx="0" cy="0" r="72.3" fill="none" stroke="#111" stroke-width="1.55"/>
<circle cx="0" cy="0" r="24.6" fill="none" stroke="#111" stroke-width="1.0"/>
<circle cx="0" cy="0" r="23.3" fill="none" stroke="#111" stroke-width="1.0"/>
<rect x="-27" y="-6.4" width="7.8" height="12.8" rx="0" fill="#fff" stroke="#111" stroke-width="1.2"/>
<circle cx="-162.8" cy="0" r="8.6" fill="#fff" stroke="#111" stroke-width="2.2"/>
<line x1="-169.22" y1="4.44" x2="-158.36" y2="-6.42" stroke="#111" stroke-width="1.1"/>
<line x1="-167.08" y1="6.54" x2="-156.26" y2="-4.28" stroke="#111" stroke-width="1.1"/>
<circle cx="162.8" cy="0" r="8.6" fill="#fff" stroke="#111" stroke-width="2.2"/>
<line x1="156.38" y1="4.44" x2="167.24" y2="-6.42" stroke="#111" stroke-width="1.1"/>
<line x1="158.52" y1="6.54" x2="169.34" y2="-4.28" stroke="#111" stroke-width="1.1"/>
<circle cx="0" cy="-163" r="8.6" fill="#fff" stroke="#111" stroke-width="2.2"/>
<line x1="4.44" y1="-156.58" x2="-6.42" y2="-167.44" stroke="#111" stroke-width="1.1"/>
<line x1="6.54" y1="-158.72" x2="-4.28" y2="-169.54" stroke="#111" stroke-width="1.1"/>
<circle cx="0.4" cy="162.8" r="8.6" fill="#fff" stroke="#111" stroke-width="2.2"/>
<line x1="4.84" y1="169.22" x2="-6.02" y2="158.36" stroke="#111" stroke-width="1.1"/>
<line x1="6.94" y1="167.08" x2="-3.88" y2="156.26" stroke="#111" stroke-width="1.1"/>
<circle cx="-56.5" cy="0" r="7.9" fill="#fff" stroke="#111" stroke-width="2.2"/>
<line x1="-62.42" y1="3.94" x2="-52.56" y2="-5.92" stroke="#111" stroke-width="1.1"/>
<line x1="-60.27" y1="6.04" x2="-50.46" y2="-3.77" stroke="#111" stroke-width="1.1"/>
<circle cx="57.2" cy="0" r="7.9" fill="#fff" stroke="#111" stroke-width="2.2"/>
<line x1="61.14" y1="5.92" x2="51.28" y2="-3.94" stroke="#111" stroke-width="1.1"/>
<line x1="63.24" y1="3.77" x2="53.43" y2="-6.04" stroke="#111" stroke-width="1.1"/>
<line x1="-55.5" y1="-12" x2="-56.4" y2="15" stroke="#111" stroke-width="1.0"/>
<line x1="58.6" y1="-12" x2="55.8" y2="15" stroke="#111" stroke-width="1.0"/>
<line x1="-162.8" y1="-14" x2="-162.8" y2="14" stroke="#111" stroke-width="0.9"/>
<line x1="162.8" y1="-14" x2="162.8" y2="14" stroke="#111" stroke-width="0.9"/>
<line x1="-15" y1="-163" x2="15" y2="-163" stroke="#111" stroke-width="0.9"/>
<line x1="-14" y1="162.8" x2="14" y2="162.8" stroke="#111" stroke-width="0.9"/>
<circle cx="-71.1" cy="-71.1" r="5" fill="#fff" stroke="#111" stroke-width="1.6"/>
<circle cx="-71.1" cy="-71.1" r="3" fill="none" stroke="#111" stroke-width="0.8"/>
<line x1="-82.1" y1="-82.1" x2="-60.1" y2="-60.1" stroke="#111" stroke-width="0.9"/>
<line x1="-82.1" y1="-60.1" x2="-60.1" y2="-82.1" stroke="#111" stroke-width="0.9"/>
<circle cx="-71.1" cy="71.1" r="5" fill="#fff" stroke="#111" stroke-width="1.6"/>
<circle cx="-71.1" cy="71.1" r="3" fill="none" stroke="#111" stroke-width="0.8"/>
<line x1="-82.1" y1="60.1" x2="-60.1" y2="82.1" stroke="#111" stroke-width="0.9"/>
<line x1="-82.1" y1="82.1" x2="-60.1" y2="60.1" stroke="#111" stroke-width="0.9"/>
<circle cx="71.1" cy="-71.1" r="5" fill="#fff" stroke="#111" stroke-width="1.6"/>
<circle cx="71.1" cy="-71.1" r="3" fill="none" stroke="#111" stroke-width="0.8"/>
<line x1="60.1" y1="-82.1" x2="82.1" y2="-60.1" stroke="#111" stroke-width="0.9"/>
<line x1="60.1" y1="-60.1" x2="82.1" y2="-82.1" stroke="#111" stroke-width="0.9"/>
<circle cx="71.1" cy="71.1" r="5" fill="#fff" stroke="#111" stroke-width="1.6"/>
<circle cx="71.1" cy="71.1" r="3" fill="none" stroke="#111" stroke-width="0.8"/>
<line x1="60.1" y1="60.1" x2="82.1" y2="82.1" stroke="#111" stroke-width="0.9"/>
<line x1="60.1" y1="82.1" x2="82.1" y2="60.1" stroke="#111" stroke-width="0.9"/>
<line x1="-309" y1="0" x2="-117.6" y2="0" stroke="#111" stroke-width="0.9"/>
<line x1="-81" y1="0" x2="-78" y2="0" stroke="#111" stroke-width="0.9"/>
<line x1="-44.4" y1="0" x2="29.6" y2="0" stroke="#111" stroke-width="0.9"/>
<line x1="102.3" y1="0" x2="185.5" y2="0" stroke="#111" stroke-width="0.9"/>
<line x1="0" y1="-292" x2="0" y2="-109.5" stroke="#111" stroke-width="0.9"/>
<line x1="0" y1="-37.3" x2="0" y2="37.3" stroke="#111" stroke-width="0.9"/>
<line x1="0" y1="110" x2="0" y2="193.7" stroke="#111" stroke-width="0.9"/>
<line x1="0" y1="-81.5" x2="0" y2="-79.5" stroke="#111" stroke-width="0.9"/>
<line x1="0" y1="79.5" x2="0" y2="81.5" stroke="#111" stroke-width="0.9"/>
<line x1="-92.12" y1="40.44" x2="207" y2="-90.85" stroke="#111" stroke-width="0.9"/>
<line x1="207" y1="-90.85" x2="222.4" y2="-90.85" stroke="#111" stroke-width="0.9"/>
<path d="M-92.12 40.44 L-80.3 32.52 L-78.29 37.1 Z" fill="#111"/>
<path d="M92.12 -40.44 L80.3 -32.52 L78.29 -37.1 Z" fill="#111"/>
<path d="M-71.13 71.13 A100.6 100.6 0 0 1 -95.12 32.75" fill="none" stroke="#111" stroke-width="0.9"/>
<path d="M71.13 -71.13 A100.6 100.6 0 0 1 96.2 -29.41" fill="none" stroke="#111" stroke-width="0.9"/>
<path d="M-66.68 -66.68 A94.3 94.3 0 0 1 -22.81 -91.5" fill="none" stroke="#111" stroke-width="0.9"/>
<path d="M22.81 -91.5 A94.3 94.3 0 0 1 66.68 -66.68" fill="none" stroke="#111" stroke-width="0.9"/>
<path d="M-66.7 -66.7 L-59.2 -77.59 L-55.81 -74.2 Z" fill="#111"/>
<path d="M66.7 -66.7 L55.81 -74.2 L59.2 -77.59 Z" fill="#111"/>
<line x1="-94.6" y1="-20" x2="-94.6" y2="0" stroke="#111" stroke-width="0.9"/>
<path d="M-94.6 -1 L-97 -14 L-92.2 -14 Z" fill="#111"/>
<path d="M-72.5 -60.8 L-79.42 -49.53 L-82.98 -52.75 Z" fill="#111"/>
<line x1="-80.6" y1="-51.8" x2="-84" y2="-47" stroke="#111" stroke-width="0.9"/>
</g>
<text x="626.7" y="494.6" font-family="'DejaVu Sans Light','DejaVu Sans','Liberation Sans',sans-serif" font-size="26.5" text-anchor="middle" textLength="31" lengthAdjust="spacingAndGlyphs" font-weight="200" fill="#111" xml:space="preserve">90°</text>
<text x="526" y="551.8" font-family="'DejaVu Sans Light','DejaVu Sans','Liberation Sans',sans-serif" font-size="24.5" textLength="31" lengthAdjust="spacingAndGlyphs" font-weight="200" fill="#111" xml:space="preserve">45°</text>
<text x="859.5" y="497.6" font-family="'DejaVu Sans Light','DejaVu Sans','Liberation Sans',sans-serif" font-size="24.5" textLength="46" lengthAdjust="spacingAndGlyphs" font-weight="200" fill="#111" xml:space="preserve">130</text>
<text x="889.6" y="520.7" font-family="'Liberation Sans',Arial,sans-serif" font-size="19.5" textLength="37.6" lengthAdjust="spacingAndGlyphs" fill="#111" xml:space="preserve">js12</text>
<line x1="445.7" y1="196" x2="445.7" y2="494.5" stroke="#111" stroke-width="0.9"/>
<line x1="445.7" y1="522" x2="445.7" y2="579" stroke="#111" stroke-width="0.9"/>
<line x1="809.3" y1="196" x2="809.3" y2="211.5" stroke="#111" stroke-width="0.9"/>
<line x1="809.3" y1="251.5" x2="809.3" y2="491" stroke="#111" stroke-width="0.9"/>
<line x1="809.3" y1="508.4" x2="809.3" y2="578" stroke="#111" stroke-width="0.9"/>
<line x1="445.7" y1="199.5" x2="574" y2="199.5" stroke="#111" stroke-width="0.9"/>
<line x1="680.4" y1="199.5" x2="809.3" y2="199.5" stroke="#111" stroke-width="0.9"/>
<path d="M445.7 199.5 L460.7 196.9 L460.7 202.1 Z" fill="#111"/>
<path d="M809.3 199.5 L794.3 202.1 L794.3 196.9 Z" fill="#111"/>
<text x="598.5" y="209.8" font-family="'DejaVu Sans Light','DejaVu Sans','Liberation Sans',sans-serif" font-size="24.5" textLength="47.5" lengthAdjust="spacingAndGlyphs" font-weight="200" fill="#111" xml:space="preserve">200</text>
<line x1="608" y1="225.8" x2="608" y2="336.5" stroke="#111" stroke-width="0.9"/>
<line x1="647" y1="225.8" x2="647" y2="341" stroke="#111" stroke-width="0.9"/>
<line x1="581.2" y1="229.1" x2="673.4" y2="229.1" stroke="#111" stroke-width="0.9"/>
<path d="M608 229.1 L595 231.5 L595 226.7 Z" fill="#111"/>
<path d="M647 229.1 L660 226.7 L660 231.5 Z" fill="#111"/>
<text x="679.5" y="240" font-family="'DejaVu Sans Light','DejaVu Sans','Liberation Sans',sans-serif" font-size="24.5" textLength="105.5" lengthAdjust="spacingAndGlyphs" font-weight="200" fill="#111" xml:space="preserve">M20x1,5</text>
<line x1="318.2" y1="256.9" x2="538" y2="256.9" stroke="#111" stroke-width="0.9"/>
<line x1="319.4" y1="256.9" x2="319.4" y2="348" stroke="#111" stroke-width="0.9"/>
<line x1="319.4" y1="490" x2="319.4" y2="579.3" stroke="#111" stroke-width="0.9"/>
<path d="M319.4 256.9 L322 271.9 L316.8 271.9 Z" fill="#111"/>
<path d="M319.4 579.3 L316.8 564.3 L322 564.3 Z" fill="#111"/>
<text x="328.8" y="445.6" font-family="'DejaVu Sans Light','DejaVu Sans','Liberation Sans',sans-serif" font-size="26" transform="rotate(-90 328.8 445.6)" textLength="49.5" lengthAdjust="spacingAndGlyphs" font-weight="200" fill="#111" xml:space="preserve">153</text>
<line x1="400.7" y1="501.7" x2="551.5" y2="501.7" stroke="#111" stroke-width="0.9"/>
<line x1="400.7" y1="513.9" x2="551.5" y2="513.9" stroke="#111" stroke-width="0.9"/>
<line x1="406.4" y1="457.3" x2="406.4" y2="501.7" stroke="#111" stroke-width="0.9"/>
<line x1="406.4" y1="513.9" x2="406.4" y2="544.5" stroke="#111" stroke-width="0.9"/>
<path d="M406.4 501.7 L404 488.7 L408.8 488.7 Z" fill="#111"/>
<path d="M406.4 513.9 L408.8 526.9 L404 526.9 Z" fill="#111"/>
<text x="417.3" y="447" font-family="'DejaVu Sans Light','DejaVu Sans','Liberation Sans',sans-serif" font-size="26" transform="rotate(-90 417.3 447)" textLength="30.5" lengthAdjust="spacingAndGlyphs" font-weight="200" fill="#111" xml:space="preserve">M8</text>
<text x="606" y="174.2" font-family="'DejaVu Sans Light','DejaVu Sans','Liberation Sans',sans-serif" font-size="25.5" textLength="128.5" lengthAdjust="spacingAndGlyphs" font-weight="200" fill="#111" xml:space="preserve">Grounding</text>
<text x="752.3" y="174.2" font-family="'DejaVu Sans Light','DejaVu Sans','Liberation Sans',sans-serif" font-size="25.5" textLength="35" lengthAdjust="spacingAndGlyphs" font-weight="200" fill="#111" xml:space="preserve">for</text>
<text x="805" y="174.2" font-family="'DejaVu Sans Light','DejaVu Sans','Liberation Sans',sans-serif" font-size="25.5" textLength="67.5" lengthAdjust="spacingAndGlyphs" font-weight="200" fill="#111" xml:space="preserve">leads</text>
<text x="890" y="174.2" font-family="'DejaVu Sans Light','DejaVu Sans','Liberation Sans',sans-serif" font-size="25.5" textLength="79" lengthAdjust="spacingAndGlyphs" font-weight="200" fill="#111" xml:space="preserve">0.5−6</text>
<text x="987" y="174.2" font-family="'DejaVu Sans Light','DejaVu Sans','Liberation Sans',sans-serif" font-size="25.5" textLength="59" lengthAdjust="spacingAndGlyphs" font-weight="200" fill="#111" xml:space="preserve">mm²</text>
<text x="1066" y="174.2" font-family="'DejaVu Sans Light','DejaVu Sans','Liberation Sans',sans-serif" font-size="25.5" font-weight="200" fill="#111" xml:space="preserve">/</text>
<text x="1099" y="174.2" font-family="'DejaVu Sans Light','DejaVu Sans','Liberation Sans',sans-serif" font-size="25.5" textLength="86" lengthAdjust="spacingAndGlyphs" font-weight="200" fill="#111" xml:space="preserve">20−10</text>
<text x="1203" y="174.2" font-family="'DejaVu Sans Light','DejaVu Sans','Liberation Sans',sans-serif" font-size="25.5" textLength="52.5" lengthAdjust="spacingAndGlyphs" font-weight="200" fill="#111" xml:space="preserve">AWG</text>
<path d="M1665.8 393.8 L1612.2 393.8 A184.9 184.9 0 0 0 1498.5 436.27 Q1497.0 438.07 1497.0 442.07 L1497.0 715.33 Q1497.0 719.33 1498.5 721.13 A184.9 184.9 0 0 0 1612.2 763.6 L1665.8 763.6 Z" fill="#fff" stroke="#111" stroke-width="1.45" />
<line x1="1612.2" y1="393.8" x2="1612.2" y2="763.6" stroke="#111" stroke-width="1.2"/>
<line x1="1668.6" y1="427.5" x2="1668.6" y2="731" stroke="#111" stroke-width="1.2"/>
<path d="M1637 393.8 L1638.6 392.2 L1639.2 384.2 L1655.4 384.2 L1656 392.2 L1657.8 393.8" fill="#fff" stroke="#111" stroke-width="1.3" stroke-linejoin="round"/>
<line x1="1638.6" y1="392.2" x2="1656" y2="392.2" stroke="#111" stroke-width="1.0"/>
<line x1="1647.3" y1="382" x2="1647.3" y2="397.5" stroke="#111" stroke-width="1.0"/>
<line x1="1645.3" y1="386.5" x2="1649.3" y2="386.5" stroke="#111" stroke-width="1.6"/>
<circle cx="1647.3" cy="579" r="10.2" fill="#fff" stroke="#111" stroke-width="1.2"/>
<circle cx="1647.3" cy="579" r="8.3" fill="none" stroke="#111" stroke-width="1.2"/>
<line x1="1639.5" y1="579" x2="1655" y2="579" stroke="#111" stroke-width="2.4"/>
<line x1="1647.3" y1="566.7" x2="1647.3" y2="591.3" stroke="#111" stroke-width="1.0"/>
<path d="M1676.2 424 L1677.2 419 L1680.5 415.2 L1733.2 404.9 L1826.5 404.9" fill="none" stroke="#111" stroke-width="1.2" />
<path d="M1677.5 420.5 L1680.8 416.7 L1733.2 406.4 L1826.5 406.4" fill="none" stroke="#111" stroke-width="0.8" />
<path d="M1677.8 422 L1680.8 418.2 L1733.2 407.9 L1826.5 407.9" fill="none" stroke="#111" stroke-width="0.8" />
<path d="M1678.06 423.3 L1680.8 419.5 L1733.2 409.2 L1826.5 409.2" fill="none" stroke="#111" stroke-width="0.8" />
<path d="M1676.6 432 Q1677 424.8 1682 423.4 L1733.2 413.6 L1799.3 413.6 Q1800.5 413.6 1800.5 415.1 L1801.3 441.4 A8.4 8.4 0 0 0 1818.1 441.4 L1818.9 415.1 Q1818.9 413.6 1820.1 413.6 L1826.5 413.6" fill="none" stroke="#111" stroke-width="1.45" />
<path d="M1675.8 448 Q1676.5 433 1682 431.2 L1733.2 420.6 L1799.3 420.6 M1820.1 420.6 L1889 420.6 L1890 420.6 Q1891.2 420.6 1891.2 422.1 L1892 441.5 A8.3 8.3 0 0 0 1908.6 441.5 L1909.4 422.1 Q1909.4 420.6 1910.6 420.6 L1925.4 420.6 L1977 430.8 Q1983.6 432.5 1984.2 441.5 L1984.2 464.4" fill="none" stroke="#111" stroke-width="1.45" />
<line x1="1675" y1="440" x2="1675" y2="464.4" stroke="#111" stroke-width="1.45"/>
<line x1="1675" y1="464.4" x2="1984.2" y2="464.4" stroke="#111" stroke-width="1.45"/>
<path d="M1668.6 427.5 L1669.5 427.5 L1669.5 404.4 L1705.5 404.4 Q1708.6 404.4 1708.8 408.6" fill="none" stroke="#111" stroke-width="1.2" />
<line x1="1669.5" y1="427.5" x2="1675.5" y2="428.5" stroke="#111" stroke-width="1.0"/>
<path d="M1675 692.5 L1984.2 692.5 L1984.2 722 Q1983.6 726 1979 727.3 L1925.4 737.1 L1925.4 754.1 L1733.2 754.1 L1681 744 Q1676 741 1675.6 727 Z" fill="#fff" stroke="#fff" stroke-width="0.01" />
<line x1="1675" y1="692.5" x2="1984.2" y2="692.5" stroke="#111" stroke-width="1.45"/>
<line x1="1675" y1="692.5" x2="1675.3" y2="716" stroke="#111" stroke-width="1.45"/>
<line x1="1984.2" y1="692.5" x2="1984.2" y2="722" stroke="#111" stroke-width="1.45"/>
<path d="M1676.2 716 Q1676.8 725.4 1682 726.6 L1733.2 737.1 L1799.1 737.1 Q1800.5 737.1 1800.5 735.5 M1818.9 735.5 Q1818.9 737.1 1820.3 737.1 L1889.8 737.1 Q1891.2 737.1 1891.2 735.5 M1909.4 735.5 Q1909.4 737.1 1910.8 737.1 L1925.4 737.1 L1978 727.3 Q1983.4 725.7 1984 719.3" fill="none" stroke="#111" stroke-width="1.45" />
<path d="M1676.4 722 Q1677 732.6 1682 733.8 L1733.2 743.9 L1799.1 743.9 Q1800.5 743.9 1800.5 742.3 M1818.9 742.3 Q1818.9 743.9 1820.3 743.9 L1889.8 743.9 Q1891.2 743.9 1891.2 742.3 M1909.4 742.3 Q1909.4 743.9 1910.8 743.9 L1925.4 743.9 L1978 733.7 Q1983.4 732.1 1984 725.7" fill="none" stroke="#111" stroke-width="1.45" />
<path d="M1800.5 742.3 L1801.3 716.5 A8.4 8.4 0 0 1 1818.1 716.5 L1818.9 742.3" fill="none" stroke="#111" stroke-width="1.45" />
<path d="M1891.2 742.3 L1892 716.4 A8.3 8.3 0 0 1 1908.6 716.4 L1909.4 742.3" fill="none" stroke="#111" stroke-width="1.45" />
<path d="M1676.6 729 Q1677 742 1682 744.8 L1734.2 749.5 L1925.4 749.5 L1979 740.4 Q1983.6 739 1984 731" fill="none" stroke="#111" stroke-width="1.2" />
<path d="M1706 748.6 L1734.2 752.3 L1925.4 752.3 L1950.4 748.2" fill="none" stroke="#111" stroke-width="0.9" />
<path d="M1708.3 750.8 L1734.2 754.2 L1925.4 754.2 L1950.4 750" fill="none" stroke="#111" stroke-width="1.1" />
<path d="M1668.6 731 L1669.5 731 L1669.5 753.7 L1705.5 753.7 Q1708.4 753.7 1708.4 750.2" fill="none" stroke="#111" stroke-width="1.2" />
<line x1="1669.5" y1="731" x2="1675.8" y2="730" stroke="#111" stroke-width="1.0"/>
<path d="M1950.4 748.4 L1950.4 751.2 Q1950.6 753.7 1953 753.7 L1989.2 753.7" fill="none" stroke="#111" stroke-width="1.2" />
<rect x="1675" y="476.8" width="309.2" height="6.1" rx="0" fill="#fff" stroke="#111" stroke-width="1.45"/>
<line x1="1734.2" y1="476.8" x2="1734.2" y2="482.9" stroke="#111" stroke-width="1.3"/>
<line x1="1925.4" y1="476.8" x2="1925.4" y2="482.9" stroke="#111" stroke-width="1.3"/>
<rect x="1675" y="498.3" width="309.2" height="5.9" rx="0" fill="#fff" stroke="#111" stroke-width="1.45"/>
<line x1="1734.2" y1="498.3" x2="1734.2" y2="504.2" stroke="#111" stroke-width="1.3"/>
<line x1="1925.4" y1="498.3" x2="1925.4" y2="504.2" stroke="#111" stroke-width="1.3"/>
<rect x="1675" y="520.8" width="309.2" height="5.6" rx="0" fill="#fff" stroke="#111" stroke-width="1.45"/>
<line x1="1734.2" y1="520.8" x2="1734.2" y2="526.4" stroke="#111" stroke-width="1.3"/>
<line x1="1925.4" y1="520.8" x2="1925.4" y2="526.4" stroke="#111" stroke-width="1.3"/>
<rect x="1675" y="543" width="309.2" height="5.9" rx="0" fill="#fff" stroke="#111" stroke-width="1.45"/>
<line x1="1734.2" y1="543" x2="1734.2" y2="548.9" stroke="#111" stroke-width="1.3"/>
<line x1="1925.4" y1="543" x2="1925.4" y2="548.9" stroke="#111" stroke-width="1.3"/>
<rect x="1675" y="674.5" width="309.2" height="6.1" rx="0" fill="#fff" stroke="#111" stroke-width="1.45"/>
<line x1="1734.2" y1="674.5" x2="1734.2" y2="680.6" stroke="#111" stroke-width="1.3"/>
<line x1="1925.4" y1="674.5" x2="1925.4" y2="680.6" stroke="#111" stroke-width="1.3"/>
<rect x="1675" y="653.2" width="309.2" height="5.9" rx="0" fill="#fff" stroke="#111" stroke-width="1.45"/>
<line x1="1734.2" y1="653.2" x2="1734.2" y2="659.1" stroke="#111" stroke-width="1.3"/>
<line x1="1925.4" y1="653.2" x2="1925.4" y2="659.1" stroke="#111" stroke-width="1.3"/>
<rect x="1675" y="631" width="309.2" height="5.6" rx="0" fill="#fff" stroke="#111" stroke-width="1.45"/>
<line x1="1734.2" y1="631" x2="1734.2" y2="636.6" stroke="#111" stroke-width="1.3"/>
<line x1="1925.4" y1="631" x2="1925.4" y2="636.6" stroke="#111" stroke-width="1.3"/>
<rect x="1675" y="608.5" width="309.2" height="5.9" rx="0" fill="#fff" stroke="#111" stroke-width="1.45"/>
<line x1="1734.2" y1="608.5" x2="1734.2" y2="614.4" stroke="#111" stroke-width="1.3"/>
<line x1="1925.4" y1="608.5" x2="1925.4" y2="614.4" stroke="#111" stroke-width="1.3"/>
<line x1="1699" y1="482.9" x2="1699" y2="498.3" stroke="#111" stroke-width="1.1"/>
<line x1="1699" y1="659.1" x2="1699" y2="674.5" stroke="#111" stroke-width="1.1"/>
<line x1="1959.6" y1="482.9" x2="1959.6" y2="498.3" stroke="#111" stroke-width="1.1"/>
<line x1="1959.6" y1="659.1" x2="1959.6" y2="674.5" stroke="#111" stroke-width="1.1"/>
<line x1="1699" y1="504.2" x2="1699" y2="520.8" stroke="#111" stroke-width="1.1"/>
<line x1="1699" y1="636.6" x2="1699" y2="653.2" stroke="#111" stroke-width="1.1"/>
<line x1="1959.6" y1="504.2" x2="1959.6" y2="520.8" stroke="#111" stroke-width="1.1"/>
<line x1="1959.6" y1="636.6" x2="1959.6" y2="653.2" stroke="#111" stroke-width="1.1"/>
<line x1="1699" y1="526.4" x2="1699" y2="543" stroke="#111" stroke-width="1.1"/>
<line x1="1699" y1="614.4" x2="1699" y2="631" stroke="#111" stroke-width="1.1"/>
<line x1="1959.6" y1="526.4" x2="1959.6" y2="543" stroke="#111" stroke-width="1.1"/>
<line x1="1959.6" y1="614.4" x2="1959.6" y2="631" stroke="#111" stroke-width="1.1"/>
<line x1="1699" y1="548.9" x2="1699" y2="556" stroke="#111" stroke-width="1.1"/>
<line x1="1699" y1="601.4" x2="1699" y2="608.5" stroke="#111" stroke-width="1.1"/>
<line x1="1959.6" y1="548.9" x2="1959.6" y2="556" stroke="#111" stroke-width="1.1"/>
<line x1="1959.6" y1="601.4" x2="1959.6" y2="608.5" stroke="#111" stroke-width="1.1"/>
<line x1="1959.6" y1="464.4" x2="1959.6" y2="476.8" stroke="#111" stroke-width="1.1"/>
<line x1="1959.6" y1="680.6" x2="1959.6" y2="687.4" stroke="#111" stroke-width="1.1"/>
<path d="M1787.8 482.9 L1788.4 487.4 Q1788.6 489 1790.4 489 L1798.6 489 Q1800.4 489 1800.6 487.4 L1801.2 482.9" fill="#fff" stroke="#111" stroke-width="1.2" />
<path d="M1907.9 482.9 L1908.5 487.4 Q1908.7 489 1910.5 489 L1918.7 489 Q1920.5 489 1920.7 487.4 L1921.3 482.9" fill="#fff" stroke="#111" stroke-width="1.2" />
<line x1="1709.2" y1="564.8" x2="1950.4" y2="564.8" stroke="#111" stroke-width="1.3"/>
<line x1="1709.2" y1="592.5" x2="1950.4" y2="592.5" stroke="#111" stroke-width="1.3"/>
<line x1="1709.2" y1="571.4" x2="1950.4" y2="571.4" stroke="#111" stroke-width="2.0"/>
<line x1="1709.2" y1="573.3" x2="1957" y2="573.3" stroke="#111" stroke-width="0.9"/>
<line x1="1709.2" y1="584.7" x2="1957" y2="584.7" stroke="#111" stroke-width="0.9"/>
<line x1="1709.2" y1="586.6" x2="1950.4" y2="586.6" stroke="#111" stroke-width="2.0"/>
<line x1="1734.2" y1="564.8" x2="1734.2" y2="571" stroke="#111" stroke-width="1.3"/>
<line x1="1734.2" y1="587" x2="1734.2" y2="592.5" stroke="#111" stroke-width="1.3"/>
<line x1="1925.4" y1="564.8" x2="1925.4" y2="571" stroke="#111" stroke-width="1.3"/>
<line x1="1925.4" y1="587" x2="1925.4" y2="592.5" stroke="#111" stroke-width="1.3"/>
<path d="M1669.5 562.4 L1705.6 562.4 Q1709.2 562.4 1709.2 566 L1709.2 592 Q1709.2 595.7 1705.6 595.7 L1669.5 595.7 Z" fill="#fff" stroke="#111" stroke-width="1.2" />
<line x1="1669.5" y1="563.6" x2="1706" y2="563.6" stroke="#111" stroke-width="0.8"/>
<line x1="1669.5" y1="594.5" x2="1706" y2="594.5" stroke="#111" stroke-width="0.8"/>
<line x1="1707" y1="565" x2="1707" y2="593" stroke="#111" stroke-width="0.8"/>
<rect x="1701.8" y="572.6" width="7.4" height="13.3" rx="0" fill="none" stroke="#111" stroke-width="1.0"/>
<rect x="1688.2" y="568.2" width="13.4" height="21.8" rx="0" fill="none" stroke="#111" stroke-width="2.4"/>
<line x1="1688.2" y1="579" x2="1701.6" y2="579" stroke="#111" stroke-width="2.0"/>
<path d="M1989.2 562.4 L1954 562.4 Q1950.4 562.4 1950.4 566 L1950.4 592 Q1950.4 595.7 1954 595.7 L1989.2 595.7" fill="#fff" stroke="#111" stroke-width="1.2" />
<line x1="1953.6" y1="563.6" x2="1989.2" y2="563.6" stroke="#111" stroke-width="0.8"/>
<line x1="1953.6" y1="594.5" x2="1989.2" y2="594.5" stroke="#111" stroke-width="0.8"/>
<line x1="1952.6" y1="565" x2="1952.6" y2="593" stroke="#111" stroke-width="0.8"/>
<line x1="1950.4" y1="573.3" x2="1957.4" y2="573.3" stroke="#111" stroke-width="0.9"/>
<line x1="1950.4" y1="584.7" x2="1957.4" y2="584.7" stroke="#111" stroke-width="0.9"/>
<rect x="1957.6" y="568.2" width="13.4" height="21.8" rx="0" fill="none" stroke="#111" stroke-width="2.4"/>
<line x1="1957.6" y1="579" x2="1971" y2="579" stroke="#111" stroke-width="2.0"/>
<line x1="1668.6" y1="571" x2="1672" y2="571" stroke="#111" stroke-width="1.0"/>
<line x1="1668.6" y1="587" x2="1672" y2="587" stroke="#111" stroke-width="1.0"/>
<path d="M1793.9 673.6 L1793.9 660 L1795.9 658.2 Q1801.9 655.2 1809.6 657.6 L1809.6 673.6 Q1801.9 676 1793.9 673.6 Z" fill="#fff" stroke="#111" stroke-width="2.2" />
<path d="M1810.6 657.6 Q1817.9 655.2 1823.9 658.2 L1825.9 660 L1825.9 673.6 Q1817.9 676 1810.6 673.6 Z" fill="#fff" stroke="#111" stroke-width="2.2" />
<line x1="1797.9" y1="656.5" x2="1821.9" y2="656.5" stroke="#111" stroke-width="2.0"/>
<line x1="1800.2" y1="674.6" x2="1800.2" y2="680.5" stroke="#111" stroke-width="2.0"/>
<line x1="1819.6" y1="674.6" x2="1819.6" y2="680.5" stroke="#111" stroke-width="2.0"/>
<path d="M1884.8 673.6 L1884.8 660 L1886.8 658.2 Q1892.8 655.2 1900.5 657.6 L1900.5 673.6 Q1892.8 676 1884.8 673.6 Z" fill="#fff" stroke="#111" stroke-width="2.2" />
<path d="M1901.5 657.6 Q1908.8 655.2 1914.8 658.2 L1916.8 660 L1916.8 673.6 Q1908.8 676 1901.5 673.6 Z" fill="#fff" stroke="#111" stroke-width="2.2" />
<line x1="1888.8" y1="656.5" x2="1912.8" y2="656.5" stroke="#111" stroke-width="2.0"/>
<line x1="1891.1" y1="674.6" x2="1891.1" y2="680.5" stroke="#111" stroke-width="2.0"/>
<line x1="1910.5" y1="674.6" x2="1910.5" y2="680.5" stroke="#111" stroke-width="2.0"/>
<path d="M1989.2 422.8 L2008 423.2 Q2019 423.8 2026.2 428.4 Q2031 431.5 2036 436.5 L2056 454.5 Q2058.4 456.6 2061 456.8 L2068.5 456.9 L2068.5 700.5 L2061 700.6 Q2058.4 700.8 2056 702.9 L2036 720.9 Q2031 725.9 2026.2 729 Q2019 733.6 2008 734.2 L1989.2 734.6 Z" fill="#fff" stroke="#111" stroke-width="1.45" />
<line x1="1989.2" y1="406.3" x2="1989.2" y2="751.1" stroke="#111" stroke-width="1.2"/>
<line x1="1992.2" y1="423" x2="1992.2" y2="734.4" stroke="#111" stroke-width="1.2"/>
<line x1="2056.7" y1="460.4" x2="2056.7" y2="697" stroke="#111" stroke-width="1.2"/>
<rect x="2068.5" y="499.9" width="4.3" height="158.8" rx="0" fill="#fff" stroke="#111" stroke-width="1.2"/>
<path d="M1973 407.2 L1973 403.5 L1986.5 403.5 Q1989.2 403.5 1989.2 406.5" fill="none" stroke="#111" stroke-width="1.2" />
<rect x="1998" y="403.4" width="27.6" height="18.5" rx="0" fill="#fff" stroke="#111" stroke-width="1.2"/>
<rect x="2025.6" y="407.1" width="6.1" height="15.5" rx="0" fill="#fff" stroke="#111" stroke-width="1.1"/>
<line x1="2027.2" y1="407.1" x2="2027.2" y2="422.6" stroke="#111" stroke-width="0.7"/>
<line x1="1989.2" y1="410.8" x2="1998" y2="410.8" stroke="#111" stroke-width="1.0"/>
<line x1="1989.2" y1="420" x2="1998" y2="420" stroke="#111" stroke-width="1.0"/>
<line x1="1989.2" y1="412.2" x2="1998" y2="412.2" stroke="#111" stroke-width="0.7"/>
<line x1="1989.2" y1="418.6" x2="1998" y2="418.6" stroke="#111" stroke-width="0.7"/>
<rect x="1998" y="553.2" width="27.6" height="51.7" rx="0" fill="#fff" stroke="#111" stroke-width="1.2"/>
<rect x="2025.6" y="570.7" width="6.1" height="16.7" rx="0" fill="#fff" stroke="#111" stroke-width="1.1"/>
<line x1="2027.2" y1="570.7" x2="2027.2" y2="587.4" stroke="#111" stroke-width="0.7"/>
<line x1="1989.2" y1="574" x2="1998" y2="574" stroke="#111" stroke-width="1.0"/>
<line x1="1989.2" y1="583.4" x2="1998" y2="583.4" stroke="#111" stroke-width="1.0"/>
<line x1="1989.2" y1="575.4" x2="1998" y2="575.4" stroke="#111" stroke-width="0.7"/>
<line x1="1989.2" y1="582" x2="1998" y2="582" stroke="#111" stroke-width="0.7"/>
<rect x="1998" y="735.5" width="27.6" height="18.5" rx="0" fill="#fff" stroke="#111" stroke-width="1.2"/>
<rect x="2025.6" y="734.8" width="6.1" height="15.5" rx="0" fill="#fff" stroke="#111" stroke-width="1.1"/>
<line x1="2027.2" y1="734.8" x2="2027.2" y2="750.3" stroke="#111" stroke-width="0.7"/>
<line x1="1989.2" y1="737.4" x2="1998" y2="737.4" stroke="#111" stroke-width="1.0"/>
<line x1="1989.2" y1="746.6" x2="1998" y2="746.6" stroke="#111" stroke-width="1.0"/>
<line x1="1989.2" y1="738.8" x2="1998" y2="738.8" stroke="#111" stroke-width="0.7"/>
<line x1="1989.2" y1="745.2" x2="1998" y2="745.2" stroke="#111" stroke-width="0.7"/>
<path d="M2072.8 544.4 L2068 545 Q2065 548 2063.5 552.5 L2061.5 554.5 Q2060.3 560 2061.3 566 Q2062.2 572 2060.6 578.7 Q2062.2 586 2061.3 592 Q2060.3 598 2061.5 603 L2063.5 605 Q2065 609.5 2068 612 L2072.8 612.5" fill="#fff" stroke="#111" stroke-width="1.2" />
<path d="M2072.8 552.5 L2066 552 Q2064.6 553 2064.6 556 L2064.6 601 Q2064.6 604.5 2066 605 L2072.8 604.8" fill="none" stroke="#111" stroke-width="1.1" />
<line x1="2068.5" y1="552.4" x2="2068.5" y2="605" stroke="#111" stroke-width="1.0"/>
<rect x="2072.8" y="555.2" width="139.4" height="47.3" rx="0" fill="#fff" stroke="#111" stroke-width="1.8"/>
<line x1="2211.4" y1="555.2" x2="2211.4" y2="572.1" stroke="#111" stroke-width="2.6"/>
<line x1="2211.4" y1="586.3" x2="2211.4" y2="602.5" stroke="#111" stroke-width="2.6"/>
<path d="M2212.2 572.1 L2090.2 572.1 A7.1 7.1 0 0 0 2090.2 586.3 L2212.2 586.3" fill="#fff" stroke="#111" stroke-width="1.6" />
<line x1="1467.8" y1="579" x2="1520.7" y2="579" stroke="#111" stroke-width="0.9"/>
<line x1="1593.7" y1="579" x2="1665" y2="579" stroke="#111" stroke-width="0.9"/>
<line x1="1740.6" y1="579" x2="1814.6" y2="579" stroke="#111" stroke-width="0.9"/>
<line x1="1888.5" y1="579" x2="1949.5" y2="579" stroke="#111" stroke-width="0.9"/>
<line x1="2035.4" y1="579" x2="2109.2" y2="579" stroke="#111" stroke-width="0.9"/>
<line x1="2182.3" y1="579" x2="2235" y2="579" stroke="#111" stroke-width="0.9"/>
<line x1="1556.7" y1="579" x2="1558.3" y2="579" stroke="#111" stroke-width="1.2"/>
<line x1="1850.7" y1="579" x2="1852.3" y2="579" stroke="#111" stroke-width="1.2"/>
<line x1="2144.7" y1="579" x2="2146.3" y2="579" stroke="#111" stroke-width="1.2"/>
<path d="M1774.13 292.55 L1774.45 296.55 L1783.26 305.37 L1784.06 380.67 Q1784.86 392.21 1796.08 392.69 L2019.6 392.69 Q2030.34 392.21 2030.82 380.67 L2031.62 305.37 L2040.43 296.55 L2040.91 292.55" fill="#fff" stroke="#111" stroke-width="1.45" />
<path d="M1774.13 292.55 L1774.93 289.34 L1775.57 266.91 Q1776.05 262.9 1780.06 262.1 Q1907.44 240.95 2034.82 262.1 Q2038.99 262.9 2039.63 266.91 L2040.43 289.34 L2040.91 292.55 L2040.43 296.07 L1774.45 296.07 Z" fill="#fff" stroke="#111" stroke-width="1.45" />
<line x1="1774.93" y1="289.34" x2="2040.43" y2="289.34" stroke="#111" stroke-width="1.45"/>
<path d="M1775.41 280.53 Q1776.05 274.92 1781.98 274.92 L1812.1 274.92 Q1818.51 274.6 1821.72 268.51 L1825.72 261.3 Q1828.93 256.02 1836.14 255.21" fill="none" stroke="#111" stroke-width="1.3" />
<path d="M2039.79 280.53 Q2039.15 274.92 2033.22 274.92 L2003.1 274.92 Q1996.69 274.6 1993.49 268.51 L1989.48 261.3 Q1986.27 256.02 1979.06 255.21" fill="none" stroke="#111" stroke-width="1.3" />
<path d="M1792.56 274.44 L1792.56 270.92 Q1802.97 262.9 1813.39 270.92 L1813.39 274.44 M1792.56 270.92 L1813.39 270.92" fill="none" stroke="#111" stroke-width="1.2" />
<line x1="1802.97" y1="254.89" x2="1802.97" y2="286.94" stroke="#111" stroke-width="0.9"/>
<path d="M2001.5 274.44 L2001.5 270.92 Q2011.91 262.9 2022.33 270.92 L2022.33 274.44 M2001.5 270.92 L2022.33 270.92" fill="none" stroke="#111" stroke-width="1.2" />
<line x1="2011.91" y1="254.89" x2="2011.91" y2="286.94" stroke="#111" stroke-width="0.9"/>
<path d="M1816.59 299.76 L1816.59 340.62 Q1817.71 383.88 1861.78 385.16 L1953.11 385.16 Q1996.85 383.88 1997.97 340.62 L1997.97 299.76 Q1907.44 302.96 1816.59 299.76 Z" fill="none" stroke="#111" stroke-width="1.3" />
<circle cx="1865.46" cy="340.62" r="26.2" fill="none" stroke="#111" stroke-width="2.0"/>
<circle cx="1949.1" cy="340.62" r="26.2" fill="none" stroke="#111" stroke-width="2.0"/>
<line x1="1809.22" y1="340.62" x2="1839.34" y2="340.62" stroke="#111" stroke-width="0.9"/>
<line x1="1892.22" y1="340.62" x2="1922.66" y2="340.62" stroke="#111" stroke-width="1.4"/>
<line x1="1976.34" y1="340.62" x2="2005.98" y2="340.62" stroke="#111" stroke-width="0.9"/>
<line x1="1839.02" y1="340.62" x2="1891.9" y2="340.62" stroke="#111" stroke-width="0.9"/>
<line x1="1865.46" y1="290.95" x2="1865.46" y2="391.09" stroke="#111" stroke-width="0.9"/>
<line x1="1949.1" y1="290.14" x2="1949.1" y2="391.09" stroke="#111" stroke-width="0.9"/>
<line x1="1948.1" y1="340.62" x2="1950.1" y2="340.62" stroke="#111" stroke-width="1.2"/>
<path d="M1818.51 393.01 L1823.32 397.02 L1990.76 397.02 L1995.09 393.01" fill="none" stroke="#111" stroke-width="1.3" />
<path d="M1826.52 397.02 L1825.56 413.52 M1847.68 397.02 L1847.03 420.73 M1825.56 413.52 Q1836.14 413.04 1847.03 415.93" fill="none" stroke="#111" stroke-width="1.2" />
<path d="M1961.12 397.02 L1962.72 427.14 M1984.67 397.02 L1984.67 405.51" fill="none" stroke="#111" stroke-width="1.2" />
<line x1="1838.54" y1="210.83" x2="1838.54" y2="339.82" stroke="#111" stroke-width="0.9"/>
<line x1="1892.22" y1="210.83" x2="1892.22" y2="334.21" stroke="#111" stroke-width="0.9"/>
<line x1="1808.1" y1="214.52" x2="1921.86" y2="214.52" stroke="#111" stroke-width="0.9"/>
<path d="M1838.54 214.52 L1823.54 216.92 L1823.54 212.12 Z" fill="#111"/>
<path d="M1892.22 214.52 L1907.22 212.12 L1907.22 216.92 Z" fill="#111"/>
<text x="1939.3" y="222.9" font-family="'DejaVu Sans Light','DejaVu Sans','Liberation Sans',sans-serif" font-size="24.5" textLength="135.5" lengthAdjust="spacingAndGlyphs" font-weight="200" fill="#111" xml:space="preserve">2xM25x1,5</text>
<text x="1777.2" y="213.4" font-family="'DejaVu Sans Light','DejaVu Sans','Liberation Sans',sans-serif" font-size="19" textLength="10.5" lengthAdjust="spacingAndGlyphs" font-weight="200" fill="#111" xml:space="preserve">X</text>
<line x1="1782.5" y1="218" x2="1782.5" y2="234" stroke="#111" stroke-width="0.9"/>
<path d="M1782.5 235.8 L1780.7 225.8 L1784.3 225.8 Z" fill="#111"/>
<line x1="2071.9" y1="456.9" x2="2335" y2="456.9" stroke="#111" stroke-width="0.9"/>
<line x1="2071.9" y1="701.3" x2="2335" y2="701.3" stroke="#111" stroke-width="0.9"/>
<line x1="2075.4" y1="499.9" x2="2136.6" y2="499.9" stroke="#111" stroke-width="0.9"/>
<line x1="2194" y1="499.9" x2="2292.7" y2="499.9" stroke="#111" stroke-width="0.9"/>
<line x1="2075.4" y1="658.7" x2="2292.7" y2="658.7" stroke="#111" stroke-width="0.9"/>
<line x1="2283.2" y1="499.9" x2="2283.2" y2="523.7" stroke="#111" stroke-width="0.9"/>
<line x1="2283.2" y1="634.9" x2="2283.2" y2="658.7" stroke="#111" stroke-width="0.9"/>
<path d="M2283.2 499.9 L2285.7 513.9 L2280.7 513.9 Z" fill="#111"/>
<path d="M2283.2 658.7 L2280.7 644.7 L2285.7 644.7 Z" fill="#111"/>
<line x1="2323.8" y1="456.9" x2="2323.8" y2="522.8" stroke="#111" stroke-width="0.9"/>
<line x1="2323.8" y1="644.4" x2="2323.8" y2="701.3" stroke="#111" stroke-width="0.9"/>
<path d="M2323.8 456.9 L2326.4 471.9 L2321.2 471.9 Z" fill="#111"/>
<path d="M2323.8 701.3 L2321.2 686.3 L2326.4 686.3 Z" fill="#111"/>
<text x="2293.4" y="598.9" font-family="'DejaVu Sans Light','DejaVu Sans','Liberation Sans',sans-serif" font-size="24.5" transform="rotate(-90 2293.4 598.9)" textLength="36" lengthAdjust="spacingAndGlyphs" font-weight="200" fill="#111" xml:space="preserve">110</text>
<text x="2293.4" y="632.6" font-family="'DejaVu Sans Light','DejaVu Sans','Liberation Sans',sans-serif" font-size="19.5" transform="rotate(-90 2293.4 632.6)" font-weight="200" font-style="italic" fill="#111" xml:space="preserve">ø</text>
<text x="2307.8" y="552" font-family="'DejaVu Sans Light','DejaVu Sans','Liberation Sans',sans-serif" font-size="17" transform="rotate(-90 2307.8 552)" textLength="12.5" lengthAdjust="spacingAndGlyphs" font-weight="200" fill="#111" xml:space="preserve">j6</text>
<text x="2332.4" y="597.2" font-family="'DejaVu Sans Light','DejaVu Sans','Liberation Sans',sans-serif" font-size="24.5" transform="rotate(-90 2332.4 597.2)" textLength="36" lengthAdjust="spacingAndGlyphs" font-weight="200" fill="#111" xml:space="preserve">160</text>
<text x="2332.4" y="638.6" font-family="'DejaVu Sans Light','DejaVu Sans','Liberation Sans',sans-serif" font-size="19.5" transform="rotate(-90 2332.4 638.6)" font-weight="200" font-style="italic" fill="#111" xml:space="preserve">ø</text>
<line x1="2090" y1="518" x2="2090" y2="586" stroke="#111" stroke-width="0.9"/>
<line x1="2212.5" y1="519.4" x2="2212.5" y2="555" stroke="#111" stroke-width="0.9"/>
<line x1="2212.5" y1="606" x2="2212.5" y2="977" stroke="#111" stroke-width="0.9"/>
<line x1="2090" y1="523.7" x2="2112.5" y2="523.7" stroke="#111" stroke-width="0.9"/>
<line x1="2191.5" y1="523.7" x2="2212.5" y2="523.7" stroke="#111" stroke-width="0.9"/>
<path d="M2090 523.7 L2104 521.3 L2104 526.1 Z" fill="#111"/>
<path d="M2212.5 523.7 L2198.5 526.1 L2198.5 521.3 Z" fill="#111"/>
<text x="2139.6" y="532.4" font-family="'DejaVu Sans Light','DejaVu Sans','Liberation Sans',sans-serif" font-size="24.5" textLength="27" lengthAdjust="spacingAndGlyphs" font-weight="200" fill="#111" xml:space="preserve">45</text>
<path d="M2080.4 462.4 L2068.9 469.7 L2080.4 476.2 L2068.9 483.1 L2080.4 490 L2080.4 462.4" fill="none" stroke="#111" stroke-width="1.2" stroke-linejoin="round"/>
<path d="M2106.4 488 L2134 488" fill="none" stroke="#111" stroke-width="1.2" stroke-linejoin="round"/>
<path d="M2107.3 488.3 L2113.8 499.9 L2120.2 488.3 L2126.8 499.9 L2133.5 488.3" fill="none" stroke="#111" stroke-width="1.2" stroke-linejoin="round"/>
<path d="M2226 616 L2213 623.4 L2226 631.1 L2226 616" fill="none" stroke="#111" stroke-width="1.2" stroke-linejoin="round"/>
<line x1="2068.5" y1="700.5" x2="2068.5" y2="841" stroke="#111" stroke-width="0.9"/>
<line x1="2072.6" y1="659.5" x2="2072.6" y2="697.5" stroke="#111" stroke-width="0.9" stroke-dasharray="26 5"/>
<line x1="2072.6" y1="708.5" x2="2072.6" y2="787.5" stroke="#111" stroke-width="0.9"/>
<line x1="2041.5" y1="782.6" x2="2097.5" y2="782.6" stroke="#111" stroke-width="0.9"/>
<path d="M2068.5 782.6 L2055.5 784.8 L2055.5 780.4 Z" fill="#111"/>
<path d="M2072.6 782.6 L2085.6 780.4 L2085.6 784.8 Z" fill="#111"/>
<text x="2101.5" y="792" font-family="'DejaVu Sans Light','DejaVu Sans','Liberation Sans',sans-serif" font-size="24.5" textLength="30.5" lengthAdjust="spacingAndGlyphs" font-weight="200" fill="#111" xml:space="preserve">3.5</text>
<line x1="2068.5" y1="835.9" x2="2107" y2="835.9" stroke="#111" stroke-width="0.9"/>
<line x1="2180" y1="835.9" x2="2212.5" y2="835.9" stroke="#111" stroke-width="0.9"/>
<path d="M2068.5 835.9 L2083.5 833.4 L2083.5 838.4 Z" fill="#111"/>
<path d="M2212.5 835.9 L2197.5 838.4 L2197.5 833.4 Z" fill="#111"/>
<text x="2125" y="847" font-family="'DejaVu Sans Light','DejaVu Sans','Liberation Sans',sans-serif" font-size="24.5" textLength="27.5" lengthAdjust="spacingAndGlyphs" font-weight="200" fill="#111" xml:space="preserve">60</text>
<text x="2147" y="866.2" font-family="'DejaVu Sans Light','DejaVu Sans','Liberation Sans',sans-serif" font-size="15.5" textLength="37.5" lengthAdjust="spacingAndGlyphs" font-weight="200" fill="#111" xml:space="preserve">−0.3</text>
<line x1="1496.9" y1="720" x2="1496.9" y2="973" stroke="#111" stroke-width="0.9"/>
<line x1="1496.9" y1="970" x2="1780.3" y2="970" stroke="#111" stroke-width="0.9"/>
<line x1="1933" y1="970" x2="2212.5" y2="970" stroke="#111" stroke-width="0.9"/>
<path d="M1496.9 970 L1512.9 967.3 L1512.9 972.7 Z" fill="#111"/>
<path d="M2212.5 970 L2196.5 972.7 L2196.5 967.3 Z" fill="#111"/>
<text x="1812.5" y="978.8" font-family="'DejaVu Sans Light','DejaVu Sans','Liberation Sans',sans-serif" font-size="25.5" textLength="46.5" lengthAdjust="spacingAndGlyphs" font-weight="200" fill="#111" xml:space="preserve">376</text>
<path d="M994.31 216.71 L989.28 229.35 L992.56 244.8 L986.12 264.7 L992.56 284.6 L984.36 316.2 L991.39 344.3 L983.43 361.27 L996.07 387.61 L1205.13 387.61 L1217.77 361.27 L1209.81 344.3 L1216.84 316.2 L1208.64 284.6 L1215.08 264.7 L1208.64 244.8 L1211.92 229.35 L1206.89 216.71 Z" fill="#fff" stroke="#111" stroke-width="1.6" stroke-linejoin="round"/>
<line x1="996.07" y1="384.68" x2="1205.13" y2="384.68" stroke="#111" stroke-width="1.0"/>
<line x1="995.6" y1="386.2" x2="1205.6" y2="386.2" stroke="#111" stroke-width="0.8"/>
<line x1="989.95" y1="232.51" x2="1005.67" y2="232.51" stroke="#111" stroke-width="1.2"/>
<line x1="1211.25" y1="232.51" x2="1195.53" y2="232.51" stroke="#111" stroke-width="1.2"/>
<line x1="990.45" y1="234.85" x2="1005.67" y2="234.85" stroke="#111" stroke-width="1.2"/>
<line x1="1210.75" y1="234.85" x2="1195.53" y2="234.85" stroke="#111" stroke-width="1.2"/>
<line x1="990.48" y1="251.24" x2="1005.67" y2="251.24" stroke="#111" stroke-width="1.2"/>
<line x1="1210.72" y1="251.24" x2="1195.53" y2="251.24" stroke="#111" stroke-width="1.2"/>
<line x1="989.72" y1="253.58" x2="1005.67" y2="253.58" stroke="#111" stroke-width="1.2"/>
<line x1="1211.48" y1="253.58" x2="1195.53" y2="253.58" stroke="#111" stroke-width="1.2"/>
<line x1="988.2" y1="271.14" x2="1005.67" y2="271.14" stroke="#111" stroke-width="1.2"/>
<line x1="1213" y1="271.14" x2="1195.53" y2="271.14" stroke="#111" stroke-width="1.2"/>
<line x1="988.77" y1="272.89" x2="1005.67" y2="272.89" stroke="#111" stroke-width="1.2"/>
<line x1="1212.43" y1="272.89" x2="1195.53" y2="272.89" stroke="#111" stroke-width="1.2"/>
<line x1="991.19" y1="289.86" x2="1005.67" y2="289.86" stroke="#111" stroke-width="1.2"/>
<line x1="1210.01" y1="289.86" x2="1195.53" y2="289.86" stroke="#111" stroke-width="1.2"/>
<line x1="990.59" y1="292.21" x2="1005.67" y2="292.21" stroke="#111" stroke-width="1.2"/>
<line x1="1210.61" y1="292.21" x2="1195.53" y2="292.21" stroke="#111" stroke-width="1.2"/>
<line x1="986.03" y1="309.76" x2="1005.67" y2="309.76" stroke="#111" stroke-width="1.2"/>
<line x1="1215.17" y1="309.76" x2="1195.53" y2="309.76" stroke="#111" stroke-width="1.2"/>
<line x1="985.58" y1="311.52" x2="1005.67" y2="311.52" stroke="#111" stroke-width="1.2"/>
<line x1="1215.62" y1="311.52" x2="1195.53" y2="311.52" stroke="#111" stroke-width="1.2"/>
<line x1="987.29" y1="327.91" x2="1005.67" y2="327.91" stroke="#111" stroke-width="1.2"/>
<line x1="1213.91" y1="327.91" x2="1195.53" y2="327.91" stroke="#111" stroke-width="1.2"/>
<line x1="987.88" y1="330.25" x2="1005.67" y2="330.25" stroke="#111" stroke-width="1.2"/>
<line x1="1213.32" y1="330.25" x2="1195.53" y2="330.25" stroke="#111" stroke-width="1.2"/>
<line x1="990.02" y1="347.22" x2="1005.67" y2="347.22" stroke="#111" stroke-width="1.2"/>
<line x1="1211.18" y1="347.22" x2="1195.53" y2="347.22" stroke="#111" stroke-width="1.2"/>
<line x1="988.92" y1="349.56" x2="1005.67" y2="349.56" stroke="#111" stroke-width="1.2"/>
<line x1="1212.28" y1="349.56" x2="1195.53" y2="349.56" stroke="#111" stroke-width="1.2"/>
<line x1="985.96" y1="366.54" x2="1005.67" y2="366.54" stroke="#111" stroke-width="1.2"/>
<line x1="1215.24" y1="366.54" x2="1195.53" y2="366.54" stroke="#111" stroke-width="1.2"/>
<line x1="986.8" y1="368.29" x2="1005.67" y2="368.29" stroke="#111" stroke-width="1.2"/>
<line x1="1214.4" y1="368.29" x2="1195.53" y2="368.29" stroke="#111" stroke-width="1.2"/>
<path d="M1100.6 211.79 Q1080.35 211.79 1021.82 214.13 Q1007.78 214.95 1006.02 228.41 Q1000.17 293.96 1006.02 360.68 Q1007.78 375.31 1021.82 376.49 Q1080.35 378.24 1100.6 378.24 Q1120.85 378.24 1179.38 376.49 Q1193.42 375.31 1195.18 360.68 Q1201.03 293.96 1195.18 228.41 Q1193.42 214.95 1179.38 214.13 Q1120.85 211.79 1100.6 211.79 Z" fill="#fff" stroke="#111" stroke-width="1.6" />
<path d="M1036.45 213.43 Q1034.46 222.56 1035.28 231.92 Q1035.28 242.69 1025.33 242.69 L1012.46 242.69 Q1006.6 243.04 1005.2 251.24" fill="none" stroke="#111" stroke-width="1.2" />
<path d="M1046.64 213.19 Q1044.3 222.56 1045.47 232.51 Q1044.65 253.58 1025.33 253.58 L1011.29 253.58 Q1005.2 253.93 1004.03 260.02" fill="none" stroke="#111" stroke-width="1.2" />
<path d="M1036.45 376.84 Q1034.46 367.71 1035.28 358.34 Q1035.28 347.57 1025.33 347.57 L1012.46 347.57 Q1006.6 347.22 1005.2 339.03" fill="none" stroke="#111" stroke-width="1.2" />
<path d="M1046.64 377.07 Q1044.3 367.71 1045.47 357.76 Q1044.65 336.69 1025.33 336.69 L1011.29 336.69 Q1005.2 336.34 1004.03 330.25" fill="none" stroke="#111" stroke-width="1.2" />
<path d="M1164.75 213.43 Q1166.74 222.56 1165.92 231.92 Q1165.92 242.69 1175.87 242.69 L1188.74 242.69 Q1194.6 243.04 1196 251.24" fill="none" stroke="#111" stroke-width="1.2" />
<path d="M1154.56 213.19 Q1156.9 222.56 1155.73 232.51 Q1156.55 253.58 1175.87 253.58 L1189.91 253.58 Q1196 253.93 1197.17 260.02" fill="none" stroke="#111" stroke-width="1.2" />
<circle cx="1023.58" cy="232.51" r="8.1" fill="none" stroke="#111" stroke-width="1.2"/>
<circle cx="1023.58" cy="232.51" r="5.3" fill="none" stroke="#111" stroke-width="1.3"/>
<line x1="1013.58" y1="232.51" x2="1033.58" y2="232.51" stroke="#111" stroke-width="0.9"/>
<line x1="1023.58" y1="222.51" x2="1023.58" y2="242.51" stroke="#111" stroke-width="0.9"/>
<line x1="1018.98" y1="232.51" x2="1028.18" y2="232.51" stroke="#111" stroke-width="2.2"/>
<line x1="1023.58" y1="227.91" x2="1023.58" y2="237.11" stroke="#111" stroke-width="2.2"/>
<circle cx="1023.58" cy="358.34" r="8.1" fill="none" stroke="#111" stroke-width="1.2"/>
<circle cx="1023.58" cy="358.34" r="5.3" fill="none" stroke="#111" stroke-width="1.3"/>
<line x1="1013.58" y1="358.34" x2="1033.58" y2="358.34" stroke="#111" stroke-width="0.9"/>
<line x1="1023.58" y1="348.34" x2="1023.58" y2="368.34" stroke="#111" stroke-width="0.9"/>
<line x1="1018.98" y1="358.34" x2="1028.18" y2="358.34" stroke="#111" stroke-width="2.2"/>
<line x1="1023.58" y1="353.74" x2="1023.58" y2="362.94" stroke="#111" stroke-width="2.2"/>
<circle cx="1177.62" cy="232.51" r="8.1" fill="none" stroke="#111" stroke-width="1.2"/>
<circle cx="1177.62" cy="232.51" r="5.3" fill="none" stroke="#111" stroke-width="1.3"/>
<line x1="1167.62" y1="232.51" x2="1187.62" y2="232.51" stroke="#111" stroke-width="0.9"/>
<line x1="1177.62" y1="222.51" x2="1177.62" y2="242.51" stroke="#111" stroke-width="0.9"/>
<line x1="1173.02" y1="232.51" x2="1182.22" y2="232.51" stroke="#111" stroke-width="2.2"/>
<line x1="1177.62" y1="227.91" x2="1177.62" y2="237.11" stroke="#111" stroke-width="2.2"/>
<path d="M1004.03 271.49 L1053.19 271.49 L1053.19 277.57 L1004.03 277.57" fill="none" stroke="#111" stroke-width="1.7" />
<path d="M1197.17 271.49 L1148.01 271.49 L1148.01 277.57 L1197.17 277.57" fill="none" stroke="#111" stroke-width="1.7" />
<path d="M1004.03 292.21 L1053.19 292.21 L1053.19 298.06 L1004.03 298.06" fill="none" stroke="#111" stroke-width="1.7" />
<path d="M1197.17 292.21 L1148.01 292.21 L1148.01 298.06 L1197.17 298.06" fill="none" stroke="#111" stroke-width="1.7" />
<path d="M1004.03 313.63 L1053.19 313.63 L1053.19 319.48 L1004.03 319.48" fill="none" stroke="#111" stroke-width="1.7" />
<path d="M1197.17 313.63 L1148.01 313.63 L1148.01 319.48 L1197.17 319.48" fill="none" stroke="#111" stroke-width="1.7" />
<rect x="1062.2" y="266.2" width="76.6" height="58.4" rx="4.5" fill="#fff" stroke="#111" stroke-width="1.5"/>
<rect x="1067.94" y="272.29" width="65.11" height="46.36" fill="#000"/>
<path d="M1074.84 278.97H1133.27V281.13H1074.84ZM1074.84 278.97H1076.99V302.04H1074.84ZM1084.97 281.13H1086.91V302.04H1084.97ZM1114.08 281.13H1116.02V310.24H1114.08ZM1103.94 288.89H1107.18V291.05H1103.94ZM1103.94 300.1H1114.08V302.04H1103.94ZM1122.27 288.89H1125.94V302.04H1122.27ZM1067.72 310.24H1125.94V311.96H1067.72ZM1092.95 281.13L1097.26 281.13L1095.1 283.07ZM1092.95 310.24L1097.26 310.24L1095.1 307.87Z" fill="#fff"/>
<path d="M1198.69 330.35 L1176.73 338.56 L1168.13 342.76 L1164.7 350.02 L1155.72 355.74 L1154.39 367.96 L1136.63 378.66 L1150.95 380.95 L1200.6 380.95 Z" fill="#fff" stroke="#fff" stroke-width="0.01" />
<path d="M1198.69 330.35 L1176.73 338.56 L1168.13 342.76 L1164.7 350.02 L1155.72 355.74 L1154.39 367.96 L1136.63 378.66" fill="none" stroke="#111" stroke-width="1.2" />
<path d="M1192.58 333.59 L1191.43 358.04 Q1190.09 371.4 1175.77 373.31 L1143.31 376.18" fill="none" stroke="#111" stroke-width="1.3" />
<line x1="1211.18" y1="347.22" x2="1193.34" y2="347.22" stroke="#111" stroke-width="1.2"/>
<line x1="1212.28" y1="349.56" x2="1193.34" y2="349.56" stroke="#111" stroke-width="1.2"/>
<line x1="1215.24" y1="366.54" x2="1193.34" y2="366.54" stroke="#111" stroke-width="1.2"/>
<line x1="1214.4" y1="368.29" x2="1193.34" y2="368.29" stroke="#111" stroke-width="1.2"/>
<circle cx="1176.35" cy="330.73" r="6.1" fill="#fff" stroke="#111" stroke-width="1.2"/>
<line x1="1172.55" y1="335.23" x2="1180.15" y2="326.23" stroke="#111" stroke-width="1.0"/>
<line x1="1173.95" y1="336.33" x2="1181.35" y2="327.33" stroke="#111" stroke-width="1.0"/>
<line x1="1162.79" y1="330.73" x2="1190.09" y2="330.73" stroke="#111" stroke-width="0.9"/>
<line x1="1176.35" y1="317.55" x2="1176.35" y2="345.05" stroke="#111" stroke-width="0.9"/>
<circle cx="1175.39" cy="355.36" r="5.2" fill="#fff" stroke="#111" stroke-width="1.7"/>
<line x1="1167.89" y1="355.36" x2="1182.89" y2="355.36" stroke="#111" stroke-width="1.0"/>
<line x1="1175.39" y1="347.86" x2="1175.39" y2="362.86" stroke="#111" stroke-width="1.0"/>
<path d="M1175.77 369.49 L1175.77 385.72 Q1175.77 389.54 1179.59 389.54 L1188.18 389.54 Q1192 389.54 1192 385.72 L1192 369.49" fill="#fff" stroke="#111" stroke-width="1.3" />
<line x1="1175.77" y1="369.49" x2="1210.14" y2="369.49" stroke="#111" stroke-width="1.2"/>
<circle cx="1183.79" cy="380.95" r="5.2" fill="none" stroke="#111" stroke-width="1.3"/>
<line x1="1170.62" y1="380.95" x2="1194.49" y2="380.95" stroke="#111" stroke-width="0.9"/>
<line x1="1183.79" y1="371.4" x2="1183.79" y2="392.02" stroke="#111" stroke-width="0.9"/>
<circle cx="1202.51" cy="376.18" r="6" fill="#fff" stroke="#111" stroke-width="1.2"/>
<line x1="1202.51" y1="372.18" x2="1202.51" y2="376.68" stroke="#111" stroke-width="1.0"/>
<line x1="1198.91" y1="376.68" x2="1206.11" y2="376.68" stroke="#111" stroke-width="1.0"/>
<line x1="1200.21" y1="378.38" x2="1204.81" y2="378.38" stroke="#111" stroke-width="1.0"/>
<line x1="1201.51" y1="379.98" x2="1203.51" y2="379.98" stroke="#111" stroke-width="1.0"/>
<line x1="1259" y1="164.3" x2="1282.5" y2="164.3" stroke="#111" stroke-width="0.9"/>
<line x1="1282.5" y1="164.3" x2="1178" y2="327.8" stroke="#111" stroke-width="0.9"/>
<path d="M1177.7 328.4 L1182.93 316.32 L1186.47 318.58 Z" fill="#111"/>
<text x="1067.6" y="476.5" font-family="'DejaVu Sans Light','DejaVu Sans','Liberation Sans',sans-serif" font-size="24.5" textLength="51" lengthAdjust="spacingAndGlyphs" font-weight="200" fill="#111" xml:space="preserve">View</text>
<text x="1141" y="476.5" font-family="'DejaVu Sans Light','DejaVu Sans','Liberation Sans',sans-serif" font-size="24.5" textLength="14" lengthAdjust="spacingAndGlyphs" font-weight="200" fill="#111" xml:space="preserve">X</text>
<path d="M2157.56 176.1 L2157.56 136.22 A6.83 7.56 0 0 1 2171.46 136.22 L2171.46 176.1" fill="none" stroke="#1a1a1a" stroke-width="4.6"/>
<path d="M2148.54 167.32 L2171.46 158.78" fill="none" stroke="#1a1a1a" stroke-width="3.6"/>
<text x="2180.2" y="152.8" font-family="'Liberation Sans',Arial,sans-serif" font-size="35.6" textLength="167.5" lengthAdjust="spacingAndGlyphs" font-weight="bold" fill="#1a1a1a" xml:space="preserve">STRAPROM</text>
<text x="2353" y="152.8" font-family="'Liberation Sans',Arial,sans-serif" font-size="14.5" textLength="40.5" lengthAdjust="spacingAndGlyphs" fill="#1a1a1a" xml:space="preserve">d.o.o.</text>
<rect x="2180.2" y="158.5" width="213.2" height="18.2" fill="#e8202a"/>
<text x="2231" y="173.5" font-family="'Liberation Sans',Arial,sans-serif" font-size="17" textLength="88.5" lengthAdjust="spacingAndGlyphs" font-weight="bold" font-style="italic" fill="#fff" xml:space="preserve">since 1994</text>
<path d="M2234.09 197.4 L2259.18 195.05 Q2276.43 203.52 2285.44 212.53 L2273.68 217 Q2258.39 203.52 2234.09 197.4 Z" fill="#1a1a1a"/>
<path d="M2266.23 194.11 L2283.87 191.92 Q2299.16 199.6 2307.39 207.44 L2296.81 211.2 Q2284.26 200.38 2266.23 194.11 Z" fill="#1a1a1a"/>
<path d="M2292.89 190.82 L2308.57 188.78 Q2321.89 195.68 2328.17 202.89 L2317.97 205.48 Q2308.57 196.46 2292.89 190.82 Z" fill="#1a1a1a"/>
<path d="M2282.7 238.95 L2293.28 235.5 Q2289.75 250.56 2281.13 261.53 L2264.27 265.61 Q2277.99 254.47 2282.7 238.95 Z" fill="#1a1a1a"/>
<path d="M2305.43 233.47 L2315.23 230.8 Q2312.49 244.28 2304.65 254.63 L2289.75 259.18 Q2301.51 248.2 2305.43 233.47 Z" fill="#1a1a1a"/>
<path d="M2327.38 227.04 L2337.96 223.9 Q2336.01 236.44 2327.38 245.46 L2313.27 250.95 Q2324.25 241.15 2327.38 227.04 Z" fill="#1a1a1a"/>
<path d="M2313.27 187.84 Q2344.63 186.27 2350.9 205.87 Q2354.82 223.9 2336.79 242.72 Q2331.3 247.42 2325.81 248.99 L2328.17 244.28 Q2346.98 227.04 2343.84 209.01 Q2339.14 193.33 2317.97 191.76 Z" fill="#1a1a1a"/>
<ellipse cx="2229.9" cy="235.7" rx="38.6" ry="34.1" fill="#fff"/>
<path d="M2267.79 242.21 A38.6 34.1 0 1 1 2263.98 219.69" fill="none" stroke="#e8202a" stroke-width="6.4"/>
<path d="M2234.88 197.25 L2317.19 187.68 M2258.39 266.39 L2327.38 247.58" stroke="#1a1a1a" stroke-width="1.2" fill="none"/>
<text x="2198.6" y="242.8" font-family="'Liberation Sans',Arial,sans-serif" font-size="36" textLength="16" lengthAdjust="spacingAndGlyphs" font-weight="bold" fill="#e8202a" xml:space="preserve">A</text>
<text x="2215" y="242" font-family="'Liberation Sans',Arial,sans-serif" font-size="20" textLength="26.5" lengthAdjust="spacingAndGlyphs" font-weight="bold" fill="#e8202a" xml:space="preserve">STR</text>
<text x="2240.5" y="252" font-family="'Liberation Sans',Arial,sans-serif" font-size="40" textLength="16.5" lengthAdjust="spacingAndGlyphs" font-weight="bold" fill="#e8202a" xml:space="preserve">A</text>
<path d="M2198.42 238.01 L2216.85 238.01 M2240.36 245.85 L2257.61 245.85" stroke="#e8202a" stroke-width="2" fill="none"/>
<text x="2266.63" y="238.64" font-family="'Liberation Sans',Arial,sans-serif" font-size="24" font-weight="bold" font-style="italic" fill="#1a1a1a" stroke="#1a1a1a" stroke-width="0.9" textLength="75" lengthAdjust="spacingAndGlyphs" transform="rotate(-18 2266.63 238.64)">prom</text>
</svg></body></html>
